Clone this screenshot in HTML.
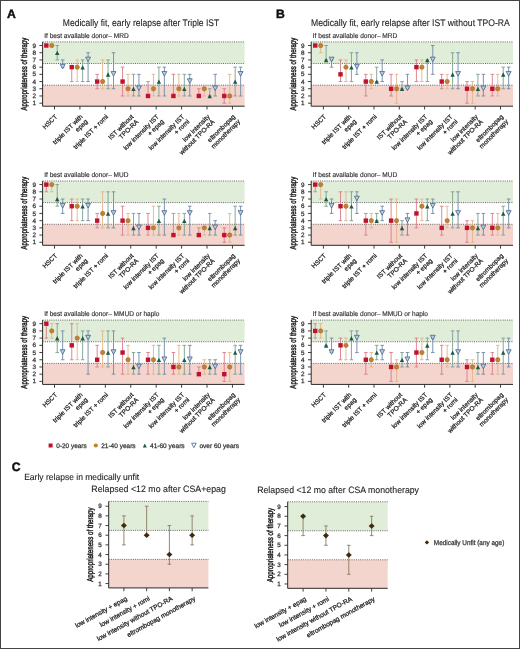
<!DOCTYPE html>
<html><head><meta charset="utf-8"><title>Figure</title><style>html,body{margin:0;padding:0;background:#fff;}svg{display:block;will-change:transform;}text{font-family:"Liberation Sans", sans-serif;text-rendering:geometricPrecision;}</style></head><body><svg width="520" height="649" viewBox="0 0 520 649" font-family='"Liberation Sans", sans-serif'>
<rect x="0" y="0" width="520" height="649" fill="#fff"/>
<text x="7.00" y="17.80" font-size="12.2" text-anchor="start" font-weight="bold" fill="#111" stroke="#111" stroke-width="0.45" >A</text>
<text x="275.90" y="17.80" font-size="12.2" text-anchor="start" font-weight="bold" fill="#111" stroke="#111" stroke-width="0.45" >B</text>
<text x="11.80" y="470.80" font-size="12.2" text-anchor="start" font-weight="bold" fill="#111" stroke="#111" stroke-width="0.45" >C</text>
<text x="62.80" y="25.80" font-size="9.6" text-anchor="start" font-weight="normal" fill="#222" stroke="#222" stroke-width="0.1" textLength="156.4" lengthAdjust="spacingAndGlyphs" >Medically fit, early relapse after Triple IST</text>
<text x="311.00" y="25.80" font-size="9.6" text-anchor="start" font-weight="normal" fill="#222" stroke="#222" stroke-width="0.1" textLength="198.8" lengthAdjust="spacingAndGlyphs" >Medically fit, early relapse after IST without TPO-RA</text>
<rect x="42.60" y="41.90" width="202.00" height="21.63" fill="#e0edd8"/>
<rect x="42.60" y="85.16" width="202.00" height="21.05" fill="#f3d5cd"/>
<line x1="42.60" y1="41.90" x2="244.60" y2="41.90" stroke="#666" stroke-width="1" stroke-dasharray="1 1.2"/>
<line x1="42.60" y1="63.52" x2="244.60" y2="63.52" stroke="#666" stroke-width="1" stroke-dasharray="1 1.2"/>
<line x1="42.60" y1="85.16" x2="244.60" y2="85.16" stroke="#666" stroke-width="1" stroke-dasharray="1 1.2"/>
<path d="M46.33,45.50V45.50M44.53,45.50H48.12M44.53,45.50H48.12" stroke="#db7b89" stroke-width="0.9" fill="none"/>
<path d="M51.77,45.50V45.50M49.98,45.50H53.57M49.98,45.50H53.57" stroke="#e2b48a" stroke-width="0.9" fill="none"/>
<path d="M57.23,45.50V59.92M55.43,45.50H59.02M55.43,59.92H59.02" stroke="#7a9e91" stroke-width="0.9" fill="none"/>
<path d="M62.67,59.92V67.13M60.88,59.92H64.47M60.88,67.13H64.47" stroke="#7189a6" stroke-width="0.9" fill="none"/>
<rect x="44.12" y="43.30" width="4.4" height="4.4" fill="#c0122c"/>
<circle cx="51.77" cy="45.50" r="2.2" fill="#c4802f" stroke="#9a6222" stroke-width="0.5"/>
<path d="M57.23,50.71 L59.43,55.01 L55.02,55.01Z" fill="#1c5a42"/>
<path d="M60.22,64.33 L65.12,64.33 L62.67,68.93Z" fill="#bccde0" stroke="#43658e" stroke-width="0.8" stroke-linejoin="miter"/>
<path d="M71.75,67.13V81.55M69.95,67.13H73.55M69.95,81.55H73.55" stroke="#db7b89" stroke-width="0.9" fill="none"/>
<path d="M77.20,59.92V81.55M75.40,59.92H79.00M75.40,81.55H79.00" stroke="#e2b48a" stroke-width="0.9" fill="none"/>
<path d="M82.64,59.92V81.55M80.84,59.92H84.44M80.84,81.55H84.44" stroke="#7a9e91" stroke-width="0.9" fill="none"/>
<path d="M88.09,52.71V81.55M86.30,52.71H89.89M86.30,81.55H89.89" stroke="#7189a6" stroke-width="0.9" fill="none"/>
<rect x="69.55" y="64.93" width="4.4" height="4.4" fill="#c0122c"/>
<circle cx="77.20" cy="67.13" r="2.2" fill="#c4802f" stroke="#9a6222" stroke-width="0.5"/>
<path d="M82.64,65.13 L84.84,69.43 L80.44,69.43Z" fill="#1c5a42"/>
<path d="M85.64,57.12 L90.55,57.12 L88.09,61.72Z" fill="#bccde0" stroke="#43658e" stroke-width="0.8" stroke-linejoin="miter"/>
<path d="M97.17,74.34V88.76M95.37,74.34H98.97M95.37,88.76H98.97" stroke="#db7b89" stroke-width="0.9" fill="none"/>
<path d="M102.62,59.92V88.76M100.82,59.92H104.42M100.82,88.76H104.42" stroke="#e2b48a" stroke-width="0.9" fill="none"/>
<path d="M108.06,59.92V88.76M106.27,59.92H109.86M106.27,88.76H109.86" stroke="#7a9e91" stroke-width="0.9" fill="none"/>
<path d="M113.52,52.71V88.76M111.72,52.71H115.31M111.72,88.76H115.31" stroke="#7189a6" stroke-width="0.9" fill="none"/>
<rect x="94.97" y="79.35" width="4.4" height="4.4" fill="#c0122c"/>
<circle cx="102.62" cy="81.55" r="2.2" fill="#c4802f" stroke="#9a6222" stroke-width="0.5"/>
<path d="M108.06,72.34 L110.27,76.64 L105.86,76.64Z" fill="#1c5a42"/>
<path d="M111.06,71.54 L115.97,71.54 L113.52,76.14Z" fill="#bccde0" stroke="#43658e" stroke-width="0.8" stroke-linejoin="miter"/>
<path d="M122.58,67.13V95.97M120.78,67.13H124.38M120.78,95.97H124.38" stroke="#db7b89" stroke-width="0.9" fill="none"/>
<path d="M128.03,74.34V95.97M126.23,74.34H129.84M126.23,95.97H129.84" stroke="#e2b48a" stroke-width="0.9" fill="none"/>
<path d="M133.48,74.34V95.97M131.68,74.34H135.28M131.68,95.97H135.28" stroke="#7a9e91" stroke-width="0.9" fill="none"/>
<path d="M138.94,74.34V95.97M137.13,74.34H140.74M137.13,95.97H140.74" stroke="#7189a6" stroke-width="0.9" fill="none"/>
<rect x="120.38" y="79.35" width="4.4" height="4.4" fill="#c0122c"/>
<circle cx="128.03" cy="88.76" r="2.2" fill="#c4802f" stroke="#9a6222" stroke-width="0.5"/>
<path d="M133.48,86.76 L135.68,91.06 L131.28,91.06Z" fill="#1c5a42"/>
<path d="M136.49,85.96 L141.38,85.96 L138.94,90.56Z" fill="#bccde0" stroke="#43658e" stroke-width="0.8" stroke-linejoin="miter"/>
<path d="M148.00,81.55V95.97M146.20,81.55H149.81M146.20,95.97H149.81" stroke="#db7b89" stroke-width="0.9" fill="none"/>
<path d="M153.46,74.34V95.97M151.66,74.34H155.26M151.66,95.97H155.26" stroke="#e2b48a" stroke-width="0.9" fill="none"/>
<path d="M158.91,67.13V95.97M157.10,67.13H160.71M157.10,95.97H160.71" stroke="#7a9e91" stroke-width="0.9" fill="none"/>
<path d="M164.36,67.13V95.97M162.56,67.13H166.16M162.56,95.97H166.16" stroke="#7189a6" stroke-width="0.9" fill="none"/>
<rect x="145.81" y="93.77" width="4.4" height="4.4" fill="#c0122c"/>
<circle cx="153.46" cy="88.76" r="2.2" fill="#c4802f" stroke="#9a6222" stroke-width="0.5"/>
<path d="M158.91,79.55 L161.10,83.85 L156.71,83.85Z" fill="#1c5a42"/>
<path d="M161.91,71.54 L166.81,71.54 L164.36,76.14Z" fill="#bccde0" stroke="#43658e" stroke-width="0.8" stroke-linejoin="miter"/>
<path d="M173.43,74.34V95.97M171.62,74.34H175.23M171.62,95.97H175.23" stroke="#db7b89" stroke-width="0.9" fill="none"/>
<path d="M178.88,74.34V95.97M177.08,74.34H180.68M177.08,95.97H180.68" stroke="#e2b48a" stroke-width="0.9" fill="none"/>
<path d="M184.33,74.34V95.97M182.53,74.34H186.13M182.53,95.97H186.13" stroke="#7a9e91" stroke-width="0.9" fill="none"/>
<path d="M189.78,74.34V95.97M187.98,74.34H191.58M187.98,95.97H191.58" stroke="#7189a6" stroke-width="0.9" fill="none"/>
<rect x="171.23" y="93.77" width="4.4" height="4.4" fill="#c0122c"/>
<circle cx="178.88" cy="88.76" r="2.2" fill="#c4802f" stroke="#9a6222" stroke-width="0.5"/>
<path d="M184.33,86.76 L186.53,91.06 L182.13,91.06Z" fill="#1c5a42"/>
<path d="M187.33,78.75 L192.23,78.75 L189.78,83.35Z" fill="#bccde0" stroke="#43658e" stroke-width="0.8" stroke-linejoin="miter"/>
<path d="M198.84,88.76V95.97M197.04,88.76H200.65M197.04,95.97H200.65" stroke="#db7b89" stroke-width="0.9" fill="none"/>
<path d="M204.30,88.76V95.97M202.50,88.76H206.10M202.50,95.97H206.10" stroke="#e2b48a" stroke-width="0.9" fill="none"/>
<path d="M209.75,88.76V95.97M207.94,88.76H211.55M207.94,95.97H211.55" stroke="#7a9e91" stroke-width="0.9" fill="none"/>
<path d="M215.20,74.34V95.97M213.40,74.34H217.00M213.40,95.97H217.00" stroke="#7189a6" stroke-width="0.9" fill="none"/>
<rect x="196.65" y="93.77" width="4.4" height="4.4" fill="#c0122c"/>
<circle cx="204.30" cy="88.76" r="2.2" fill="#c4802f" stroke="#9a6222" stroke-width="0.5"/>
<path d="M209.75,93.97 L211.94,98.27 L207.55,98.27Z" fill="#1c5a42"/>
<path d="M212.75,85.96 L217.65,85.96 L215.20,90.56Z" fill="#bccde0" stroke="#43658e" stroke-width="0.8" stroke-linejoin="miter"/>
<path d="M224.26,88.76V103.18M222.46,88.76H226.06M222.46,103.18H226.06" stroke="#db7b89" stroke-width="0.9" fill="none"/>
<path d="M229.72,74.34V103.18M227.91,74.34H231.52M227.91,103.18H231.52" stroke="#e2b48a" stroke-width="0.9" fill="none"/>
<path d="M235.16,67.13V95.97M233.36,67.13H236.97M233.36,95.97H236.97" stroke="#7a9e91" stroke-width="0.9" fill="none"/>
<path d="M240.62,67.13V95.97M238.81,67.13H242.42M238.81,95.97H242.42" stroke="#7189a6" stroke-width="0.9" fill="none"/>
<rect x="222.06" y="93.77" width="4.4" height="4.4" fill="#c0122c"/>
<circle cx="229.72" cy="95.97" r="2.2" fill="#c4802f" stroke="#9a6222" stroke-width="0.5"/>
<path d="M235.16,79.55 L237.36,83.85 L232.97,83.85Z" fill="#1c5a42"/>
<path d="M238.17,71.54 L243.06,71.54 L240.62,76.14Z" fill="#bccde0" stroke="#43658e" stroke-width="0.8" stroke-linejoin="miter"/>
<path d="M42.60,41.90V106.21H244.60" stroke="#2a2a2a" stroke-width="1" fill="none"/>
<line x1="39.40" y1="103.18" x2="42.60" y2="103.18" stroke="#2a2a2a" stroke-width="0.9"/>
<text x="35.90" y="105.26" font-size="6.3" text-anchor="end" font-weight="normal" fill="#333" stroke="#333" stroke-width="0.25" >1</text>
<line x1="39.40" y1="95.97" x2="42.60" y2="95.97" stroke="#2a2a2a" stroke-width="0.9"/>
<text x="35.90" y="98.05" font-size="6.3" text-anchor="end" font-weight="normal" fill="#333" stroke="#333" stroke-width="0.25" >2</text>
<line x1="39.40" y1="88.76" x2="42.60" y2="88.76" stroke="#2a2a2a" stroke-width="0.9"/>
<text x="35.90" y="90.84" font-size="6.3" text-anchor="end" font-weight="normal" fill="#333" stroke="#333" stroke-width="0.25" >3</text>
<line x1="39.40" y1="81.55" x2="42.60" y2="81.55" stroke="#2a2a2a" stroke-width="0.9"/>
<text x="35.90" y="83.63" font-size="6.3" text-anchor="end" font-weight="normal" fill="#333" stroke="#333" stroke-width="0.25" >4</text>
<line x1="39.40" y1="74.34" x2="42.60" y2="74.34" stroke="#2a2a2a" stroke-width="0.9"/>
<text x="35.90" y="76.42" font-size="6.3" text-anchor="end" font-weight="normal" fill="#333" stroke="#333" stroke-width="0.25" >5</text>
<line x1="39.40" y1="67.13" x2="42.60" y2="67.13" stroke="#2a2a2a" stroke-width="0.9"/>
<text x="35.90" y="69.21" font-size="6.3" text-anchor="end" font-weight="normal" fill="#333" stroke="#333" stroke-width="0.25" >6</text>
<line x1="39.40" y1="59.92" x2="42.60" y2="59.92" stroke="#2a2a2a" stroke-width="0.9"/>
<text x="35.90" y="62.00" font-size="6.3" text-anchor="end" font-weight="normal" fill="#333" stroke="#333" stroke-width="0.25" >7</text>
<line x1="39.40" y1="52.71" x2="42.60" y2="52.71" stroke="#2a2a2a" stroke-width="0.9"/>
<text x="35.90" y="54.79" font-size="6.3" text-anchor="end" font-weight="normal" fill="#333" stroke="#333" stroke-width="0.25" >8</text>
<line x1="39.40" y1="45.50" x2="42.60" y2="45.50" stroke="#2a2a2a" stroke-width="0.9"/>
<text x="35.90" y="47.58" font-size="6.3" text-anchor="end" font-weight="normal" fill="#333" stroke="#333" stroke-width="0.25" >9</text>
<line x1="54.50" y1="106.21" x2="54.50" y2="109.51" stroke="#2a2a2a" stroke-width="0.9"/>
<text transform="translate(57.70,117.11) rotate(-45)" font-size="6.5" text-anchor="end" fill="#222" stroke="#222" stroke-width="0.25"><tspan x="0" y="0.00">HSCT</tspan></text>
<line x1="79.92" y1="106.21" x2="79.92" y2="109.51" stroke="#2a2a2a" stroke-width="0.9"/>
<text transform="translate(83.12,117.11) rotate(-45)" font-size="6.5" text-anchor="end" fill="#222" stroke="#222" stroke-width="0.25"><tspan x="0" y="0.00">triple IST with</tspan><tspan x="0" y="7.00">epag</tspan></text>
<line x1="105.34" y1="106.21" x2="105.34" y2="109.51" stroke="#2a2a2a" stroke-width="0.9"/>
<text transform="translate(108.54,117.11) rotate(-45)" font-size="6.5" text-anchor="end" fill="#222" stroke="#222" stroke-width="0.25"><tspan x="0" y="0.00">triple IST + romi</tspan></text>
<line x1="130.76" y1="106.21" x2="130.76" y2="109.51" stroke="#2a2a2a" stroke-width="0.9"/>
<text transform="translate(133.96,117.11) rotate(-45)" font-size="6.5" text-anchor="end" fill="#222" stroke="#222" stroke-width="0.25"><tspan x="0" y="0.00">IST without</tspan><tspan x="0" y="7.00">TPO-RA</tspan></text>
<line x1="156.18" y1="106.21" x2="156.18" y2="109.51" stroke="#2a2a2a" stroke-width="0.9"/>
<text transform="translate(159.38,117.11) rotate(-45)" font-size="6.5" text-anchor="end" fill="#222" stroke="#222" stroke-width="0.25"><tspan x="0" y="0.00">low intensity IST</tspan><tspan x="0" y="7.00">+ epag</tspan></text>
<line x1="181.60" y1="106.21" x2="181.60" y2="109.51" stroke="#2a2a2a" stroke-width="0.9"/>
<text transform="translate(184.80,117.11) rotate(-45)" font-size="6.5" text-anchor="end" fill="#222" stroke="#222" stroke-width="0.25"><tspan x="0" y="0.00">low intensity IST</tspan><tspan x="0" y="7.00">+ romi</tspan></text>
<line x1="207.02" y1="106.21" x2="207.02" y2="109.51" stroke="#2a2a2a" stroke-width="0.9"/>
<text transform="translate(210.22,117.11) rotate(-45)" font-size="6.5" text-anchor="end" fill="#222" stroke="#222" stroke-width="0.25"><tspan x="0" y="0.00">low intensity</tspan><tspan x="0" y="7.00">without TPO-RA</tspan></text>
<line x1="232.44" y1="106.21" x2="232.44" y2="109.51" stroke="#2a2a2a" stroke-width="0.9"/>
<text transform="translate(235.64,117.11) rotate(-45)" font-size="6.5" text-anchor="end" fill="#222" stroke="#222" stroke-width="0.25"><tspan x="0" y="0.00">eltrombopag</tspan><tspan x="0" y="7.00">monotherapy</tspan></text>
<text x="44.20" y="37.60" font-size="6.9" text-anchor="start" font-weight="normal" fill="#2e2e2e" stroke="#2e2e2e" stroke-width="0.15" textLength="84.5" lengthAdjust="spacingAndGlyphs" >If best available donor– MRD</text>
<text transform="translate(27.00,74.05) rotate(-90) scale(0.7051,1)" font-size="8.6" text-anchor="middle" fill="#1a1a1a" stroke="#1a1a1a" stroke-width="0.45">Appropriateness of therapy</text>
<rect x="311.20" y="41.90" width="201.80" height="21.63" fill="#e0edd8"/>
<rect x="311.20" y="85.16" width="201.80" height="21.05" fill="#f3d5cd"/>
<line x1="311.20" y1="41.90" x2="513.00" y2="41.90" stroke="#666" stroke-width="1" stroke-dasharray="1 1.2"/>
<line x1="311.20" y1="63.52" x2="513.00" y2="63.52" stroke="#666" stroke-width="1" stroke-dasharray="1 1.2"/>
<line x1="311.20" y1="85.16" x2="513.00" y2="85.16" stroke="#666" stroke-width="1" stroke-dasharray="1 1.2"/>
<path d="M315.22,45.50V45.50M313.42,45.50H317.02M313.42,45.50H317.02" stroke="#db7b89" stroke-width="0.9" fill="none"/>
<path d="M320.67,45.50V52.71M318.87,45.50H322.47M318.87,52.71H322.47" stroke="#e2b48a" stroke-width="0.9" fill="none"/>
<path d="M326.12,45.50V59.92M324.32,45.50H327.93M324.32,59.92H327.93" stroke="#7a9e91" stroke-width="0.9" fill="none"/>
<path d="M331.57,59.92V67.13M329.77,59.92H333.38M329.77,67.13H333.38" stroke="#7189a6" stroke-width="0.9" fill="none"/>
<rect x="313.02" y="43.30" width="4.4" height="4.4" fill="#c0122c"/>
<circle cx="320.67" cy="45.50" r="2.2" fill="#c4802f" stroke="#9a6222" stroke-width="0.5"/>
<path d="M326.12,57.92 L328.32,62.22 L323.93,62.22Z" fill="#1c5a42"/>
<path d="M329.12,57.12 L334.02,57.12 L331.57,61.72Z" fill="#bccde0" stroke="#43658e" stroke-width="0.8" stroke-linejoin="miter"/>
<path d="M340.52,59.92V81.55M338.72,59.92H342.32M338.72,81.55H342.32" stroke="#db7b89" stroke-width="0.9" fill="none"/>
<path d="M345.97,59.92V81.55M344.17,59.92H347.77M344.17,81.55H347.77" stroke="#e2b48a" stroke-width="0.9" fill="none"/>
<path d="M351.43,52.71V81.55M349.62,52.71H353.23M349.62,81.55H353.23" stroke="#7a9e91" stroke-width="0.9" fill="none"/>
<path d="M356.88,52.71V74.34M355.07,52.71H358.68M355.07,74.34H358.68" stroke="#7189a6" stroke-width="0.9" fill="none"/>
<rect x="338.32" y="72.14" width="4.4" height="4.4" fill="#c0122c"/>
<circle cx="345.97" cy="67.13" r="2.2" fill="#c4802f" stroke="#9a6222" stroke-width="0.5"/>
<path d="M351.43,65.13 L353.62,69.43 L349.23,69.43Z" fill="#1c5a42"/>
<path d="M354.43,64.33 L359.32,64.33 L356.88,68.93Z" fill="#bccde0" stroke="#43658e" stroke-width="0.8" stroke-linejoin="miter"/>
<path d="M365.82,74.34V95.97M364.02,74.34H367.62M364.02,95.97H367.62" stroke="#db7b89" stroke-width="0.9" fill="none"/>
<path d="M371.27,74.34V88.76M369.47,74.34H373.07M369.47,88.76H373.07" stroke="#e2b48a" stroke-width="0.9" fill="none"/>
<path d="M376.73,67.13V81.55M374.93,67.13H378.53M374.93,81.55H378.53" stroke="#7a9e91" stroke-width="0.9" fill="none"/>
<path d="M382.18,59.92V81.55M380.38,59.92H383.98M380.38,81.55H383.98" stroke="#7189a6" stroke-width="0.9" fill="none"/>
<rect x="363.62" y="79.35" width="4.4" height="4.4" fill="#c0122c"/>
<circle cx="371.27" cy="81.55" r="2.2" fill="#c4802f" stroke="#9a6222" stroke-width="0.5"/>
<path d="M376.73,79.55 L378.93,83.85 L374.53,83.85Z" fill="#1c5a42"/>
<path d="M379.73,71.54 L384.62,71.54 L382.18,76.14Z" fill="#bccde0" stroke="#43658e" stroke-width="0.8" stroke-linejoin="miter"/>
<path d="M391.12,74.34V95.97M389.32,74.34H392.92M389.32,95.97H392.92" stroke="#db7b89" stroke-width="0.9" fill="none"/>
<path d="M396.57,74.34V103.18M394.77,74.34H398.37M394.77,103.18H398.37" stroke="#e2b48a" stroke-width="0.9" fill="none"/>
<path d="M402.02,81.55V88.76M400.22,81.55H403.82M400.22,88.76H403.82" stroke="#7a9e91" stroke-width="0.9" fill="none"/>
<path d="M407.47,74.34V88.76M405.67,74.34H409.27M405.67,88.76H409.27" stroke="#7189a6" stroke-width="0.9" fill="none"/>
<rect x="388.92" y="86.56" width="4.4" height="4.4" fill="#c0122c"/>
<circle cx="396.57" cy="88.76" r="2.2" fill="#c4802f" stroke="#9a6222" stroke-width="0.5"/>
<path d="M402.02,86.76 L404.22,91.06 L399.82,91.06Z" fill="#1c5a42"/>
<path d="M405.02,85.96 L409.92,85.96 L407.47,90.56Z" fill="#bccde0" stroke="#43658e" stroke-width="0.8" stroke-linejoin="miter"/>
<path d="M416.42,59.92V81.55M414.62,59.92H418.22M414.62,81.55H418.22" stroke="#db7b89" stroke-width="0.9" fill="none"/>
<path d="M421.87,59.92V81.55M420.07,59.92H423.67M420.07,81.55H423.67" stroke="#e2b48a" stroke-width="0.9" fill="none"/>
<path d="M427.32,59.92V81.55M425.52,59.92H429.12M425.52,81.55H429.12" stroke="#7a9e91" stroke-width="0.9" fill="none"/>
<path d="M432.77,45.50V74.34M430.97,45.50H434.57M430.97,74.34H434.57" stroke="#7189a6" stroke-width="0.9" fill="none"/>
<rect x="414.22" y="64.93" width="4.4" height="4.4" fill="#c0122c"/>
<circle cx="421.87" cy="67.13" r="2.2" fill="#c4802f" stroke="#9a6222" stroke-width="0.5"/>
<path d="M427.32,57.92 L429.52,62.22 L425.12,62.22Z" fill="#1c5a42"/>
<path d="M430.32,57.12 L435.22,57.12 L432.77,61.72Z" fill="#bccde0" stroke="#43658e" stroke-width="0.8" stroke-linejoin="miter"/>
<path d="M441.72,74.34V88.76M439.92,74.34H443.52M439.92,88.76H443.52" stroke="#db7b89" stroke-width="0.9" fill="none"/>
<path d="M447.17,74.34V88.76M445.37,74.34H448.97M445.37,88.76H448.97" stroke="#e2b48a" stroke-width="0.9" fill="none"/>
<path d="M452.62,52.71V88.76M450.82,52.71H454.43M450.82,88.76H454.43" stroke="#7a9e91" stroke-width="0.9" fill="none"/>
<path d="M458.07,52.71V88.76M456.27,52.71H459.88M456.27,88.76H459.88" stroke="#7189a6" stroke-width="0.9" fill="none"/>
<rect x="439.52" y="79.35" width="4.4" height="4.4" fill="#c0122c"/>
<circle cx="447.17" cy="81.55" r="2.2" fill="#c4802f" stroke="#9a6222" stroke-width="0.5"/>
<path d="M452.62,72.34 L454.82,76.64 L450.43,76.64Z" fill="#1c5a42"/>
<path d="M455.62,71.54 L460.52,71.54 L458.07,76.14Z" fill="#bccde0" stroke="#43658e" stroke-width="0.8" stroke-linejoin="miter"/>
<path d="M467.02,81.55V103.18M465.22,81.55H468.82M465.22,103.18H468.82" stroke="#db7b89" stroke-width="0.9" fill="none"/>
<path d="M472.47,81.55V103.18M470.67,81.55H474.27M470.67,103.18H474.27" stroke="#e2b48a" stroke-width="0.9" fill="none"/>
<path d="M477.93,74.34V95.97M476.12,74.34H479.73M476.12,95.97H479.73" stroke="#7a9e91" stroke-width="0.9" fill="none"/>
<path d="M483.38,74.34V95.97M481.57,74.34H485.18M481.57,95.97H485.18" stroke="#7189a6" stroke-width="0.9" fill="none"/>
<rect x="464.82" y="86.56" width="4.4" height="4.4" fill="#c0122c"/>
<circle cx="472.47" cy="88.76" r="2.2" fill="#c4802f" stroke="#9a6222" stroke-width="0.5"/>
<path d="M477.93,86.76 L480.12,91.06 L475.73,91.06Z" fill="#1c5a42"/>
<path d="M480.93,85.96 L485.82,85.96 L483.38,90.56Z" fill="#bccde0" stroke="#43658e" stroke-width="0.8" stroke-linejoin="miter"/>
<path d="M492.32,74.34V95.97M490.52,74.34H494.12M490.52,95.97H494.12" stroke="#db7b89" stroke-width="0.9" fill="none"/>
<path d="M497.77,74.34V95.97M495.97,74.34H499.57M495.97,95.97H499.57" stroke="#e2b48a" stroke-width="0.9" fill="none"/>
<path d="M503.23,67.13V88.76M501.43,67.13H505.03M501.43,88.76H505.03" stroke="#7a9e91" stroke-width="0.9" fill="none"/>
<path d="M508.68,67.13V88.76M506.88,67.13H510.48M506.88,88.76H510.48" stroke="#7189a6" stroke-width="0.9" fill="none"/>
<rect x="490.12" y="86.56" width="4.4" height="4.4" fill="#c0122c"/>
<circle cx="497.77" cy="88.76" r="2.2" fill="#c4802f" stroke="#9a6222" stroke-width="0.5"/>
<path d="M503.23,72.34 L505.43,76.64 L501.03,76.64Z" fill="#1c5a42"/>
<path d="M506.23,71.54 L511.12,71.54 L508.68,76.14Z" fill="#bccde0" stroke="#43658e" stroke-width="0.8" stroke-linejoin="miter"/>
<path d="M311.20,41.90V106.21H513.00" stroke="#2a2a2a" stroke-width="1" fill="none"/>
<line x1="308.00" y1="103.18" x2="311.20" y2="103.18" stroke="#2a2a2a" stroke-width="0.9"/>
<text x="304.50" y="105.26" font-size="6.3" text-anchor="end" font-weight="normal" fill="#333" stroke="#333" stroke-width="0.25" >1</text>
<line x1="308.00" y1="95.97" x2="311.20" y2="95.97" stroke="#2a2a2a" stroke-width="0.9"/>
<text x="304.50" y="98.05" font-size="6.3" text-anchor="end" font-weight="normal" fill="#333" stroke="#333" stroke-width="0.25" >2</text>
<line x1="308.00" y1="88.76" x2="311.20" y2="88.76" stroke="#2a2a2a" stroke-width="0.9"/>
<text x="304.50" y="90.84" font-size="6.3" text-anchor="end" font-weight="normal" fill="#333" stroke="#333" stroke-width="0.25" >3</text>
<line x1="308.00" y1="81.55" x2="311.20" y2="81.55" stroke="#2a2a2a" stroke-width="0.9"/>
<text x="304.50" y="83.63" font-size="6.3" text-anchor="end" font-weight="normal" fill="#333" stroke="#333" stroke-width="0.25" >4</text>
<line x1="308.00" y1="74.34" x2="311.20" y2="74.34" stroke="#2a2a2a" stroke-width="0.9"/>
<text x="304.50" y="76.42" font-size="6.3" text-anchor="end" font-weight="normal" fill="#333" stroke="#333" stroke-width="0.25" >5</text>
<line x1="308.00" y1="67.13" x2="311.20" y2="67.13" stroke="#2a2a2a" stroke-width="0.9"/>
<text x="304.50" y="69.21" font-size="6.3" text-anchor="end" font-weight="normal" fill="#333" stroke="#333" stroke-width="0.25" >6</text>
<line x1="308.00" y1="59.92" x2="311.20" y2="59.92" stroke="#2a2a2a" stroke-width="0.9"/>
<text x="304.50" y="62.00" font-size="6.3" text-anchor="end" font-weight="normal" fill="#333" stroke="#333" stroke-width="0.25" >7</text>
<line x1="308.00" y1="52.71" x2="311.20" y2="52.71" stroke="#2a2a2a" stroke-width="0.9"/>
<text x="304.50" y="54.79" font-size="6.3" text-anchor="end" font-weight="normal" fill="#333" stroke="#333" stroke-width="0.25" >8</text>
<line x1="308.00" y1="45.50" x2="311.20" y2="45.50" stroke="#2a2a2a" stroke-width="0.9"/>
<text x="304.50" y="47.58" font-size="6.3" text-anchor="end" font-weight="normal" fill="#333" stroke="#333" stroke-width="0.25" >9</text>
<line x1="323.40" y1="106.21" x2="323.40" y2="109.51" stroke="#2a2a2a" stroke-width="0.9"/>
<text transform="translate(326.60,117.11) rotate(-45)" font-size="6.5" text-anchor="end" fill="#222" stroke="#222" stroke-width="0.25"><tspan x="0" y="0.00">HSCT</tspan></text>
<line x1="348.70" y1="106.21" x2="348.70" y2="109.51" stroke="#2a2a2a" stroke-width="0.9"/>
<text transform="translate(351.90,117.11) rotate(-45)" font-size="6.5" text-anchor="end" fill="#222" stroke="#222" stroke-width="0.25"><tspan x="0" y="0.00">triple IST with</tspan><tspan x="0" y="7.00">epag</tspan></text>
<line x1="374.00" y1="106.21" x2="374.00" y2="109.51" stroke="#2a2a2a" stroke-width="0.9"/>
<text transform="translate(377.20,117.11) rotate(-45)" font-size="6.5" text-anchor="end" fill="#222" stroke="#222" stroke-width="0.25"><tspan x="0" y="0.00">triple IST + romi</tspan></text>
<line x1="399.30" y1="106.21" x2="399.30" y2="109.51" stroke="#2a2a2a" stroke-width="0.9"/>
<text transform="translate(402.50,117.11) rotate(-45)" font-size="6.5" text-anchor="end" fill="#222" stroke="#222" stroke-width="0.25"><tspan x="0" y="0.00">IST without</tspan><tspan x="0" y="7.00">TPO-RA</tspan></text>
<line x1="424.60" y1="106.21" x2="424.60" y2="109.51" stroke="#2a2a2a" stroke-width="0.9"/>
<text transform="translate(427.80,117.11) rotate(-45)" font-size="6.5" text-anchor="end" fill="#222" stroke="#222" stroke-width="0.25"><tspan x="0" y="0.00">low intensity IST</tspan><tspan x="0" y="7.00">+ epag</tspan></text>
<line x1="449.90" y1="106.21" x2="449.90" y2="109.51" stroke="#2a2a2a" stroke-width="0.9"/>
<text transform="translate(453.10,117.11) rotate(-45)" font-size="6.5" text-anchor="end" fill="#222" stroke="#222" stroke-width="0.25"><tspan x="0" y="0.00">low intensity IST</tspan><tspan x="0" y="7.00">+ romi</tspan></text>
<line x1="475.20" y1="106.21" x2="475.20" y2="109.51" stroke="#2a2a2a" stroke-width="0.9"/>
<text transform="translate(478.40,117.11) rotate(-45)" font-size="6.5" text-anchor="end" fill="#222" stroke="#222" stroke-width="0.25"><tspan x="0" y="0.00">low intensity</tspan><tspan x="0" y="7.00">without TPO-RA</tspan></text>
<line x1="500.50" y1="106.21" x2="500.50" y2="109.51" stroke="#2a2a2a" stroke-width="0.9"/>
<text transform="translate(503.70,117.11) rotate(-45)" font-size="6.5" text-anchor="end" fill="#222" stroke="#222" stroke-width="0.25"><tspan x="0" y="0.00">eltrombopag</tspan><tspan x="0" y="7.00">monotherapy</tspan></text>
<text x="312.80" y="37.60" font-size="6.9" text-anchor="start" font-weight="normal" fill="#2e2e2e" stroke="#2e2e2e" stroke-width="0.15" textLength="84.5" lengthAdjust="spacingAndGlyphs" >If best available donor– MRD</text>
<text transform="translate(295.60,74.05) rotate(-90) scale(0.7051,1)" font-size="8.6" text-anchor="middle" fill="#1a1a1a" stroke="#1a1a1a" stroke-width="0.45">Appropriateness of therapy</text>
<rect x="42.60" y="181.00" width="202.00" height="21.63" fill="#e0edd8"/>
<rect x="42.60" y="224.25" width="202.00" height="21.05" fill="#f3d5cd"/>
<line x1="42.60" y1="181.00" x2="244.60" y2="181.00" stroke="#666" stroke-width="1" stroke-dasharray="1 1.2"/>
<line x1="42.60" y1="202.62" x2="244.60" y2="202.62" stroke="#666" stroke-width="1" stroke-dasharray="1 1.2"/>
<line x1="42.60" y1="224.25" x2="244.60" y2="224.25" stroke="#666" stroke-width="1" stroke-dasharray="1 1.2"/>
<path d="M46.33,184.60V191.81M44.53,184.60H48.12M44.53,191.81H48.12" stroke="#db7b89" stroke-width="0.9" fill="none"/>
<path d="M51.77,184.60V191.81M49.98,184.60H53.57M49.98,191.81H53.57" stroke="#e2b48a" stroke-width="0.9" fill="none"/>
<path d="M57.23,184.60V206.23M55.43,184.60H59.02M55.43,206.23H59.02" stroke="#7a9e91" stroke-width="0.9" fill="none"/>
<path d="M62.67,199.02V213.44M60.88,199.02H64.47M60.88,213.44H64.47" stroke="#7189a6" stroke-width="0.9" fill="none"/>
<rect x="44.12" y="182.40" width="4.4" height="4.4" fill="#c0122c"/>
<circle cx="51.77" cy="184.60" r="2.2" fill="#c4802f" stroke="#9a6222" stroke-width="0.5"/>
<path d="M57.23,197.02 L59.43,201.32 L55.02,201.32Z" fill="#1c5a42"/>
<path d="M60.22,203.43 L65.12,203.43 L62.67,208.03Z" fill="#bccde0" stroke="#43658e" stroke-width="0.8" stroke-linejoin="miter"/>
<path d="M71.75,199.02V220.65M69.95,199.02H73.55M69.95,220.65H73.55" stroke="#db7b89" stroke-width="0.9" fill="none"/>
<path d="M77.20,199.02V220.65M75.40,199.02H79.00M75.40,220.65H79.00" stroke="#e2b48a" stroke-width="0.9" fill="none"/>
<path d="M82.64,199.02V220.65M80.84,199.02H84.44M80.84,220.65H84.44" stroke="#7a9e91" stroke-width="0.9" fill="none"/>
<path d="M88.09,199.02V220.65M86.30,199.02H89.89M86.30,220.65H89.89" stroke="#7189a6" stroke-width="0.9" fill="none"/>
<rect x="69.55" y="204.03" width="4.4" height="4.4" fill="#c0122c"/>
<circle cx="77.20" cy="206.23" r="2.2" fill="#c4802f" stroke="#9a6222" stroke-width="0.5"/>
<path d="M82.64,204.23 L84.84,208.53 L80.44,208.53Z" fill="#1c5a42"/>
<path d="M85.64,203.43 L90.55,203.43 L88.09,208.03Z" fill="#bccde0" stroke="#43658e" stroke-width="0.8" stroke-linejoin="miter"/>
<path d="M97.17,213.44V227.86M95.37,213.44H98.97M95.37,227.86H98.97" stroke="#db7b89" stroke-width="0.9" fill="none"/>
<path d="M102.62,191.81V227.86M100.82,191.81H104.42M100.82,227.86H104.42" stroke="#e2b48a" stroke-width="0.9" fill="none"/>
<path d="M108.06,191.81V227.86M106.27,191.81H109.86M106.27,227.86H109.86" stroke="#7a9e91" stroke-width="0.9" fill="none"/>
<path d="M113.52,191.81V227.86M111.72,191.81H115.31M111.72,227.86H115.31" stroke="#7189a6" stroke-width="0.9" fill="none"/>
<rect x="94.97" y="218.45" width="4.4" height="4.4" fill="#c0122c"/>
<circle cx="102.62" cy="213.44" r="2.2" fill="#c4802f" stroke="#9a6222" stroke-width="0.5"/>
<path d="M108.06,211.44 L110.27,215.74 L105.86,215.74Z" fill="#1c5a42"/>
<path d="M111.06,210.64 L115.97,210.64 L113.52,215.24Z" fill="#bccde0" stroke="#43658e" stroke-width="0.8" stroke-linejoin="miter"/>
<path d="M122.58,206.23V235.07M120.78,206.23H124.38M120.78,235.07H124.38" stroke="#db7b89" stroke-width="0.9" fill="none"/>
<path d="M128.03,213.44V235.07M126.23,213.44H129.84M126.23,235.07H129.84" stroke="#e2b48a" stroke-width="0.9" fill="none"/>
<path d="M133.48,213.44V235.07M131.68,213.44H135.28M131.68,235.07H135.28" stroke="#7a9e91" stroke-width="0.9" fill="none"/>
<path d="M138.94,213.44V235.07M137.13,213.44H140.74M137.13,235.07H140.74" stroke="#7189a6" stroke-width="0.9" fill="none"/>
<rect x="120.38" y="218.45" width="4.4" height="4.4" fill="#c0122c"/>
<circle cx="128.03" cy="220.65" r="2.2" fill="#c4802f" stroke="#9a6222" stroke-width="0.5"/>
<path d="M133.48,225.86 L135.68,230.16 L131.28,230.16Z" fill="#1c5a42"/>
<path d="M136.49,225.06 L141.38,225.06 L138.94,229.66Z" fill="#bccde0" stroke="#43658e" stroke-width="0.8" stroke-linejoin="miter"/>
<path d="M148.00,213.44V235.07M146.20,213.44H149.81M146.20,235.07H149.81" stroke="#db7b89" stroke-width="0.9" fill="none"/>
<path d="M153.46,206.23V235.07M151.66,206.23H155.26M151.66,235.07H155.26" stroke="#e2b48a" stroke-width="0.9" fill="none"/>
<path d="M158.91,206.23V235.07M157.10,206.23H160.71M157.10,235.07H160.71" stroke="#7a9e91" stroke-width="0.9" fill="none"/>
<path d="M164.36,199.02V235.07M162.56,199.02H166.16M162.56,235.07H166.16" stroke="#7189a6" stroke-width="0.9" fill="none"/>
<rect x="145.81" y="225.66" width="4.4" height="4.4" fill="#c0122c"/>
<circle cx="153.46" cy="227.86" r="2.2" fill="#c4802f" stroke="#9a6222" stroke-width="0.5"/>
<path d="M158.91,218.65 L161.10,222.95 L156.71,222.95Z" fill="#1c5a42"/>
<path d="M161.91,210.64 L166.81,210.64 L164.36,215.24Z" fill="#bccde0" stroke="#43658e" stroke-width="0.8" stroke-linejoin="miter"/>
<path d="M173.43,213.44V235.07M171.62,213.44H175.23M171.62,235.07H175.23" stroke="#db7b89" stroke-width="0.9" fill="none"/>
<path d="M178.88,213.44V235.07M177.08,213.44H180.68M177.08,235.07H180.68" stroke="#e2b48a" stroke-width="0.9" fill="none"/>
<path d="M184.33,213.44V235.07M182.53,213.44H186.13M182.53,235.07H186.13" stroke="#7a9e91" stroke-width="0.9" fill="none"/>
<path d="M189.78,206.23V235.07M187.98,206.23H191.58M187.98,235.07H191.58" stroke="#7189a6" stroke-width="0.9" fill="none"/>
<rect x="171.23" y="232.87" width="4.4" height="4.4" fill="#c0122c"/>
<circle cx="178.88" cy="227.86" r="2.2" fill="#c4802f" stroke="#9a6222" stroke-width="0.5"/>
<path d="M184.33,218.65 L186.53,222.95 L182.13,222.95Z" fill="#1c5a42"/>
<path d="M187.33,210.64 L192.23,210.64 L189.78,215.24Z" fill="#bccde0" stroke="#43658e" stroke-width="0.8" stroke-linejoin="miter"/>
<path d="M198.84,227.86V235.07M197.04,227.86H200.65M197.04,235.07H200.65" stroke="#db7b89" stroke-width="0.9" fill="none"/>
<path d="M204.30,227.86V235.07M202.50,227.86H206.10M202.50,235.07H206.10" stroke="#e2b48a" stroke-width="0.9" fill="none"/>
<path d="M209.75,213.44V235.07M207.94,213.44H211.55M207.94,235.07H211.55" stroke="#7a9e91" stroke-width="0.9" fill="none"/>
<path d="M215.20,220.65V235.07M213.40,220.65H217.00M213.40,235.07H217.00" stroke="#7189a6" stroke-width="0.9" fill="none"/>
<rect x="196.65" y="232.87" width="4.4" height="4.4" fill="#c0122c"/>
<circle cx="204.30" cy="227.86" r="2.2" fill="#c4802f" stroke="#9a6222" stroke-width="0.5"/>
<path d="M209.75,225.86 L211.94,230.16 L207.55,230.16Z" fill="#1c5a42"/>
<path d="M212.75,225.06 L217.65,225.06 L215.20,229.66Z" fill="#bccde0" stroke="#43658e" stroke-width="0.8" stroke-linejoin="miter"/>
<path d="M224.26,227.86V242.28M222.46,227.86H226.06M222.46,242.28H226.06" stroke="#db7b89" stroke-width="0.9" fill="none"/>
<path d="M229.72,213.44V242.28M227.91,213.44H231.52M227.91,242.28H231.52" stroke="#e2b48a" stroke-width="0.9" fill="none"/>
<path d="M235.16,206.23V235.07M233.36,206.23H236.97M233.36,235.07H236.97" stroke="#7a9e91" stroke-width="0.9" fill="none"/>
<path d="M240.62,206.23V235.07M238.81,206.23H242.42M238.81,235.07H242.42" stroke="#7189a6" stroke-width="0.9" fill="none"/>
<rect x="222.06" y="232.87" width="4.4" height="4.4" fill="#c0122c"/>
<circle cx="229.72" cy="235.07" r="2.2" fill="#c4802f" stroke="#9a6222" stroke-width="0.5"/>
<path d="M235.16,225.86 L237.36,230.16 L232.97,230.16Z" fill="#1c5a42"/>
<path d="M238.17,210.64 L243.06,210.64 L240.62,215.24Z" fill="#bccde0" stroke="#43658e" stroke-width="0.8" stroke-linejoin="miter"/>
<path d="M42.60,181.00V245.31H244.60" stroke="#2a2a2a" stroke-width="1" fill="none"/>
<line x1="39.40" y1="242.28" x2="42.60" y2="242.28" stroke="#2a2a2a" stroke-width="0.9"/>
<text x="35.90" y="244.36" font-size="6.3" text-anchor="end" font-weight="normal" fill="#333" stroke="#333" stroke-width="0.25" >1</text>
<line x1="39.40" y1="235.07" x2="42.60" y2="235.07" stroke="#2a2a2a" stroke-width="0.9"/>
<text x="35.90" y="237.15" font-size="6.3" text-anchor="end" font-weight="normal" fill="#333" stroke="#333" stroke-width="0.25" >2</text>
<line x1="39.40" y1="227.86" x2="42.60" y2="227.86" stroke="#2a2a2a" stroke-width="0.9"/>
<text x="35.90" y="229.94" font-size="6.3" text-anchor="end" font-weight="normal" fill="#333" stroke="#333" stroke-width="0.25" >3</text>
<line x1="39.40" y1="220.65" x2="42.60" y2="220.65" stroke="#2a2a2a" stroke-width="0.9"/>
<text x="35.90" y="222.73" font-size="6.3" text-anchor="end" font-weight="normal" fill="#333" stroke="#333" stroke-width="0.25" >4</text>
<line x1="39.40" y1="213.44" x2="42.60" y2="213.44" stroke="#2a2a2a" stroke-width="0.9"/>
<text x="35.90" y="215.52" font-size="6.3" text-anchor="end" font-weight="normal" fill="#333" stroke="#333" stroke-width="0.25" >5</text>
<line x1="39.40" y1="206.23" x2="42.60" y2="206.23" stroke="#2a2a2a" stroke-width="0.9"/>
<text x="35.90" y="208.31" font-size="6.3" text-anchor="end" font-weight="normal" fill="#333" stroke="#333" stroke-width="0.25" >6</text>
<line x1="39.40" y1="199.02" x2="42.60" y2="199.02" stroke="#2a2a2a" stroke-width="0.9"/>
<text x="35.90" y="201.10" font-size="6.3" text-anchor="end" font-weight="normal" fill="#333" stroke="#333" stroke-width="0.25" >7</text>
<line x1="39.40" y1="191.81" x2="42.60" y2="191.81" stroke="#2a2a2a" stroke-width="0.9"/>
<text x="35.90" y="193.89" font-size="6.3" text-anchor="end" font-weight="normal" fill="#333" stroke="#333" stroke-width="0.25" >8</text>
<line x1="39.40" y1="184.60" x2="42.60" y2="184.60" stroke="#2a2a2a" stroke-width="0.9"/>
<text x="35.90" y="186.68" font-size="6.3" text-anchor="end" font-weight="normal" fill="#333" stroke="#333" stroke-width="0.25" >9</text>
<line x1="54.50" y1="245.31" x2="54.50" y2="248.61" stroke="#2a2a2a" stroke-width="0.9"/>
<text transform="translate(57.70,256.21) rotate(-45)" font-size="6.5" text-anchor="end" fill="#222" stroke="#222" stroke-width="0.25"><tspan x="0" y="0.00">HSCT</tspan></text>
<line x1="79.92" y1="245.31" x2="79.92" y2="248.61" stroke="#2a2a2a" stroke-width="0.9"/>
<text transform="translate(83.12,256.21) rotate(-45)" font-size="6.5" text-anchor="end" fill="#222" stroke="#222" stroke-width="0.25"><tspan x="0" y="0.00">triple IST with</tspan><tspan x="0" y="7.00">epag</tspan></text>
<line x1="105.34" y1="245.31" x2="105.34" y2="248.61" stroke="#2a2a2a" stroke-width="0.9"/>
<text transform="translate(108.54,256.21) rotate(-45)" font-size="6.5" text-anchor="end" fill="#222" stroke="#222" stroke-width="0.25"><tspan x="0" y="0.00">triple IST + romi</tspan></text>
<line x1="130.76" y1="245.31" x2="130.76" y2="248.61" stroke="#2a2a2a" stroke-width="0.9"/>
<text transform="translate(133.96,256.21) rotate(-45)" font-size="6.5" text-anchor="end" fill="#222" stroke="#222" stroke-width="0.25"><tspan x="0" y="0.00">IST without</tspan><tspan x="0" y="7.00">TPO-RA</tspan></text>
<line x1="156.18" y1="245.31" x2="156.18" y2="248.61" stroke="#2a2a2a" stroke-width="0.9"/>
<text transform="translate(159.38,256.21) rotate(-45)" font-size="6.5" text-anchor="end" fill="#222" stroke="#222" stroke-width="0.25"><tspan x="0" y="0.00">low intensity IST</tspan><tspan x="0" y="7.00">+ epag</tspan></text>
<line x1="181.60" y1="245.31" x2="181.60" y2="248.61" stroke="#2a2a2a" stroke-width="0.9"/>
<text transform="translate(184.80,256.21) rotate(-45)" font-size="6.5" text-anchor="end" fill="#222" stroke="#222" stroke-width="0.25"><tspan x="0" y="0.00">low intensity IST</tspan><tspan x="0" y="7.00">+ romi</tspan></text>
<line x1="207.02" y1="245.31" x2="207.02" y2="248.61" stroke="#2a2a2a" stroke-width="0.9"/>
<text transform="translate(210.22,256.21) rotate(-45)" font-size="6.5" text-anchor="end" fill="#222" stroke="#222" stroke-width="0.25"><tspan x="0" y="0.00">low intensity</tspan><tspan x="0" y="7.00">without TPO-RA</tspan></text>
<line x1="232.44" y1="245.31" x2="232.44" y2="248.61" stroke="#2a2a2a" stroke-width="0.9"/>
<text transform="translate(235.64,256.21) rotate(-45)" font-size="6.5" text-anchor="end" fill="#222" stroke="#222" stroke-width="0.25"><tspan x="0" y="0.00">eltrombopag</tspan><tspan x="0" y="7.00">monotherapy</tspan></text>
<text x="44.20" y="176.69" font-size="6.9" text-anchor="start" font-weight="normal" fill="#2e2e2e" stroke="#2e2e2e" stroke-width="0.15" textLength="84.3" lengthAdjust="spacingAndGlyphs" >If best available donor– MUD</text>
<text transform="translate(27.00,213.15) rotate(-90) scale(0.7051,1)" font-size="8.6" text-anchor="middle" fill="#1a1a1a" stroke="#1a1a1a" stroke-width="0.45">Appropriateness of therapy</text>
<rect x="311.20" y="181.00" width="201.80" height="21.63" fill="#e0edd8"/>
<rect x="311.20" y="224.25" width="201.80" height="21.05" fill="#f3d5cd"/>
<line x1="311.20" y1="181.00" x2="513.00" y2="181.00" stroke="#666" stroke-width="1" stroke-dasharray="1 1.2"/>
<line x1="311.20" y1="202.62" x2="513.00" y2="202.62" stroke="#666" stroke-width="1" stroke-dasharray="1 1.2"/>
<line x1="311.20" y1="224.25" x2="513.00" y2="224.25" stroke="#666" stroke-width="1" stroke-dasharray="1 1.2"/>
<path d="M315.22,184.60V191.81M313.42,184.60H317.02M313.42,191.81H317.02" stroke="#db7b89" stroke-width="0.9" fill="none"/>
<path d="M320.67,184.60V199.02M318.87,184.60H322.47M318.87,199.02H322.47" stroke="#e2b48a" stroke-width="0.9" fill="none"/>
<path d="M326.12,191.81V206.23M324.32,191.81H327.93M324.32,206.23H327.93" stroke="#7a9e91" stroke-width="0.9" fill="none"/>
<path d="M331.57,199.02V213.44M329.77,199.02H333.38M329.77,213.44H333.38" stroke="#7189a6" stroke-width="0.9" fill="none"/>
<rect x="313.02" y="182.40" width="4.4" height="4.4" fill="#c0122c"/>
<circle cx="320.67" cy="184.60" r="2.2" fill="#c4802f" stroke="#9a6222" stroke-width="0.5"/>
<path d="M326.12,197.02 L328.32,201.32 L323.93,201.32Z" fill="#1c5a42"/>
<path d="M329.12,203.43 L334.02,203.43 L331.57,208.03Z" fill="#bccde0" stroke="#43658e" stroke-width="0.8" stroke-linejoin="miter"/>
<path d="M340.52,191.81V220.65M338.72,191.81H342.32M338.72,220.65H342.32" stroke="#db7b89" stroke-width="0.9" fill="none"/>
<path d="M345.97,191.81V220.65M344.17,191.81H347.77M344.17,220.65H347.77" stroke="#e2b48a" stroke-width="0.9" fill="none"/>
<path d="M351.43,191.81V220.65M349.62,191.81H353.23M349.62,220.65H353.23" stroke="#7a9e91" stroke-width="0.9" fill="none"/>
<path d="M356.88,191.81V213.44M355.07,191.81H358.68M355.07,213.44H358.68" stroke="#7189a6" stroke-width="0.9" fill="none"/>
<rect x="338.32" y="204.03" width="4.4" height="4.4" fill="#c0122c"/>
<circle cx="345.97" cy="206.23" r="2.2" fill="#c4802f" stroke="#9a6222" stroke-width="0.5"/>
<path d="M351.43,204.23 L353.62,208.53 L349.23,208.53Z" fill="#1c5a42"/>
<path d="M354.43,196.22 L359.32,196.22 L356.88,200.82Z" fill="#bccde0" stroke="#43658e" stroke-width="0.8" stroke-linejoin="miter"/>
<path d="M365.82,213.44V235.07M364.02,213.44H367.62M364.02,235.07H367.62" stroke="#db7b89" stroke-width="0.9" fill="none"/>
<path d="M371.27,213.44V227.86M369.47,213.44H373.07M369.47,227.86H373.07" stroke="#e2b48a" stroke-width="0.9" fill="none"/>
<path d="M376.73,213.44V220.65M374.93,213.44H378.53M374.93,220.65H378.53" stroke="#7a9e91" stroke-width="0.9" fill="none"/>
<path d="M382.18,206.23V220.65M380.38,206.23H383.98M380.38,220.65H383.98" stroke="#7189a6" stroke-width="0.9" fill="none"/>
<rect x="363.62" y="218.45" width="4.4" height="4.4" fill="#c0122c"/>
<circle cx="371.27" cy="220.65" r="2.2" fill="#c4802f" stroke="#9a6222" stroke-width="0.5"/>
<path d="M376.73,218.65 L378.93,222.95 L374.53,222.95Z" fill="#1c5a42"/>
<path d="M379.73,210.64 L384.62,210.64 L382.18,215.24Z" fill="#bccde0" stroke="#43658e" stroke-width="0.8" stroke-linejoin="miter"/>
<path d="M391.12,199.02V242.28M389.32,199.02H392.92M389.32,242.28H392.92" stroke="#db7b89" stroke-width="0.9" fill="none"/>
<path d="M396.57,199.02V242.28M394.77,199.02H398.37M394.77,242.28H398.37" stroke="#e2b48a" stroke-width="0.9" fill="none"/>
<path d="M402.02,220.65V235.07M400.22,220.65H403.82M400.22,235.07H403.82" stroke="#7a9e91" stroke-width="0.9" fill="none"/>
<path d="M407.47,213.44V235.07M405.67,213.44H409.27M405.67,235.07H409.27" stroke="#7189a6" stroke-width="0.9" fill="none"/>
<rect x="388.92" y="218.45" width="4.4" height="4.4" fill="#c0122c"/>
<circle cx="396.57" cy="220.65" r="2.2" fill="#c4802f" stroke="#9a6222" stroke-width="0.5"/>
<path d="M402.02,225.86 L404.22,230.16 L399.82,230.16Z" fill="#1c5a42"/>
<path d="M405.02,217.85 L409.92,217.85 L407.47,222.45Z" fill="#bccde0" stroke="#43658e" stroke-width="0.8" stroke-linejoin="miter"/>
<path d="M416.42,199.02V227.86M414.62,199.02H418.22M414.62,227.86H418.22" stroke="#db7b89" stroke-width="0.9" fill="none"/>
<path d="M421.87,199.02V220.65M420.07,199.02H423.67M420.07,220.65H423.67" stroke="#e2b48a" stroke-width="0.9" fill="none"/>
<path d="M427.32,199.02V220.65M425.52,199.02H429.12M425.52,220.65H429.12" stroke="#7a9e91" stroke-width="0.9" fill="none"/>
<path d="M432.77,199.02V213.44M430.97,199.02H434.57M430.97,213.44H434.57" stroke="#7189a6" stroke-width="0.9" fill="none"/>
<rect x="414.22" y="211.24" width="4.4" height="4.4" fill="#c0122c"/>
<circle cx="421.87" cy="206.23" r="2.2" fill="#c4802f" stroke="#9a6222" stroke-width="0.5"/>
<path d="M427.32,204.23 L429.52,208.53 L425.12,208.53Z" fill="#1c5a42"/>
<path d="M430.32,203.43 L435.22,203.43 L432.77,208.03Z" fill="#bccde0" stroke="#43658e" stroke-width="0.8" stroke-linejoin="miter"/>
<path d="M441.72,206.23V235.07M439.92,206.23H443.52M439.92,235.07H443.52" stroke="#db7b89" stroke-width="0.9" fill="none"/>
<path d="M447.17,206.23V227.86M445.37,206.23H448.97M445.37,227.86H448.97" stroke="#e2b48a" stroke-width="0.9" fill="none"/>
<path d="M452.62,191.81V227.86M450.82,191.81H454.43M450.82,227.86H454.43" stroke="#7a9e91" stroke-width="0.9" fill="none"/>
<path d="M458.07,191.81V227.86M456.27,191.81H459.88M456.27,227.86H459.88" stroke="#7189a6" stroke-width="0.9" fill="none"/>
<rect x="439.52" y="225.66" width="4.4" height="4.4" fill="#c0122c"/>
<circle cx="447.17" cy="220.65" r="2.2" fill="#c4802f" stroke="#9a6222" stroke-width="0.5"/>
<path d="M452.62,211.44 L454.82,215.74 L450.43,215.74Z" fill="#1c5a42"/>
<path d="M455.62,210.64 L460.52,210.64 L458.07,215.24Z" fill="#bccde0" stroke="#43658e" stroke-width="0.8" stroke-linejoin="miter"/>
<path d="M467.02,220.65V242.28M465.22,220.65H468.82M465.22,242.28H468.82" stroke="#db7b89" stroke-width="0.9" fill="none"/>
<path d="M472.47,220.65V242.28M470.67,220.65H474.27M470.67,242.28H474.27" stroke="#e2b48a" stroke-width="0.9" fill="none"/>
<path d="M477.93,213.44V235.07M476.12,213.44H479.73M476.12,235.07H479.73" stroke="#7a9e91" stroke-width="0.9" fill="none"/>
<path d="M483.38,213.44V235.07M481.57,213.44H485.18M481.57,235.07H485.18" stroke="#7189a6" stroke-width="0.9" fill="none"/>
<rect x="464.82" y="225.66" width="4.4" height="4.4" fill="#c0122c"/>
<circle cx="472.47" cy="227.86" r="2.2" fill="#c4802f" stroke="#9a6222" stroke-width="0.5"/>
<path d="M477.93,225.86 L480.12,230.16 L475.73,230.16Z" fill="#1c5a42"/>
<path d="M480.93,225.06 L485.82,225.06 L483.38,229.66Z" fill="#bccde0" stroke="#43658e" stroke-width="0.8" stroke-linejoin="miter"/>
<path d="M492.32,213.44V235.07M490.52,213.44H494.12M490.52,235.07H494.12" stroke="#db7b89" stroke-width="0.9" fill="none"/>
<path d="M497.77,213.44V235.07M495.97,213.44H499.57M495.97,235.07H499.57" stroke="#e2b48a" stroke-width="0.9" fill="none"/>
<path d="M503.23,206.23V235.07M501.43,206.23H505.03M501.43,235.07H505.03" stroke="#7a9e91" stroke-width="0.9" fill="none"/>
<path d="M508.68,199.02V227.86M506.88,199.02H510.48M506.88,227.86H510.48" stroke="#7189a6" stroke-width="0.9" fill="none"/>
<rect x="490.12" y="225.66" width="4.4" height="4.4" fill="#c0122c"/>
<circle cx="497.77" cy="227.86" r="2.2" fill="#c4802f" stroke="#9a6222" stroke-width="0.5"/>
<path d="M503.23,211.44 L505.43,215.74 L501.03,215.74Z" fill="#1c5a42"/>
<path d="M506.23,210.64 L511.12,210.64 L508.68,215.24Z" fill="#bccde0" stroke="#43658e" stroke-width="0.8" stroke-linejoin="miter"/>
<path d="M311.20,181.00V245.31H513.00" stroke="#2a2a2a" stroke-width="1" fill="none"/>
<line x1="308.00" y1="242.28" x2="311.20" y2="242.28" stroke="#2a2a2a" stroke-width="0.9"/>
<text x="304.50" y="244.36" font-size="6.3" text-anchor="end" font-weight="normal" fill="#333" stroke="#333" stroke-width="0.25" >1</text>
<line x1="308.00" y1="235.07" x2="311.20" y2="235.07" stroke="#2a2a2a" stroke-width="0.9"/>
<text x="304.50" y="237.15" font-size="6.3" text-anchor="end" font-weight="normal" fill="#333" stroke="#333" stroke-width="0.25" >2</text>
<line x1="308.00" y1="227.86" x2="311.20" y2="227.86" stroke="#2a2a2a" stroke-width="0.9"/>
<text x="304.50" y="229.94" font-size="6.3" text-anchor="end" font-weight="normal" fill="#333" stroke="#333" stroke-width="0.25" >3</text>
<line x1="308.00" y1="220.65" x2="311.20" y2="220.65" stroke="#2a2a2a" stroke-width="0.9"/>
<text x="304.50" y="222.73" font-size="6.3" text-anchor="end" font-weight="normal" fill="#333" stroke="#333" stroke-width="0.25" >4</text>
<line x1="308.00" y1="213.44" x2="311.20" y2="213.44" stroke="#2a2a2a" stroke-width="0.9"/>
<text x="304.50" y="215.52" font-size="6.3" text-anchor="end" font-weight="normal" fill="#333" stroke="#333" stroke-width="0.25" >5</text>
<line x1="308.00" y1="206.23" x2="311.20" y2="206.23" stroke="#2a2a2a" stroke-width="0.9"/>
<text x="304.50" y="208.31" font-size="6.3" text-anchor="end" font-weight="normal" fill="#333" stroke="#333" stroke-width="0.25" >6</text>
<line x1="308.00" y1="199.02" x2="311.20" y2="199.02" stroke="#2a2a2a" stroke-width="0.9"/>
<text x="304.50" y="201.10" font-size="6.3" text-anchor="end" font-weight="normal" fill="#333" stroke="#333" stroke-width="0.25" >7</text>
<line x1="308.00" y1="191.81" x2="311.20" y2="191.81" stroke="#2a2a2a" stroke-width="0.9"/>
<text x="304.50" y="193.89" font-size="6.3" text-anchor="end" font-weight="normal" fill="#333" stroke="#333" stroke-width="0.25" >8</text>
<line x1="308.00" y1="184.60" x2="311.20" y2="184.60" stroke="#2a2a2a" stroke-width="0.9"/>
<text x="304.50" y="186.68" font-size="6.3" text-anchor="end" font-weight="normal" fill="#333" stroke="#333" stroke-width="0.25" >9</text>
<line x1="323.40" y1="245.31" x2="323.40" y2="248.61" stroke="#2a2a2a" stroke-width="0.9"/>
<text transform="translate(326.60,256.21) rotate(-45)" font-size="6.5" text-anchor="end" fill="#222" stroke="#222" stroke-width="0.25"><tspan x="0" y="0.00">HSCT</tspan></text>
<line x1="348.70" y1="245.31" x2="348.70" y2="248.61" stroke="#2a2a2a" stroke-width="0.9"/>
<text transform="translate(351.90,256.21) rotate(-45)" font-size="6.5" text-anchor="end" fill="#222" stroke="#222" stroke-width="0.25"><tspan x="0" y="0.00">triple IST with</tspan><tspan x="0" y="7.00">epag</tspan></text>
<line x1="374.00" y1="245.31" x2="374.00" y2="248.61" stroke="#2a2a2a" stroke-width="0.9"/>
<text transform="translate(377.20,256.21) rotate(-45)" font-size="6.5" text-anchor="end" fill="#222" stroke="#222" stroke-width="0.25"><tspan x="0" y="0.00">triple IST + romi</tspan></text>
<line x1="399.30" y1="245.31" x2="399.30" y2="248.61" stroke="#2a2a2a" stroke-width="0.9"/>
<text transform="translate(402.50,256.21) rotate(-45)" font-size="6.5" text-anchor="end" fill="#222" stroke="#222" stroke-width="0.25"><tspan x="0" y="0.00">IST without</tspan><tspan x="0" y="7.00">TPO-RA</tspan></text>
<line x1="424.60" y1="245.31" x2="424.60" y2="248.61" stroke="#2a2a2a" stroke-width="0.9"/>
<text transform="translate(427.80,256.21) rotate(-45)" font-size="6.5" text-anchor="end" fill="#222" stroke="#222" stroke-width="0.25"><tspan x="0" y="0.00">low intensity IST</tspan><tspan x="0" y="7.00">+ epag</tspan></text>
<line x1="449.90" y1="245.31" x2="449.90" y2="248.61" stroke="#2a2a2a" stroke-width="0.9"/>
<text transform="translate(453.10,256.21) rotate(-45)" font-size="6.5" text-anchor="end" fill="#222" stroke="#222" stroke-width="0.25"><tspan x="0" y="0.00">low intensity IST</tspan><tspan x="0" y="7.00">+ romi</tspan></text>
<line x1="475.20" y1="245.31" x2="475.20" y2="248.61" stroke="#2a2a2a" stroke-width="0.9"/>
<text transform="translate(478.40,256.21) rotate(-45)" font-size="6.5" text-anchor="end" fill="#222" stroke="#222" stroke-width="0.25"><tspan x="0" y="0.00">low intensity</tspan><tspan x="0" y="7.00">without TPO-RA</tspan></text>
<line x1="500.50" y1="245.31" x2="500.50" y2="248.61" stroke="#2a2a2a" stroke-width="0.9"/>
<text transform="translate(503.70,256.21) rotate(-45)" font-size="6.5" text-anchor="end" fill="#222" stroke="#222" stroke-width="0.25"><tspan x="0" y="0.00">eltrombopag</tspan><tspan x="0" y="7.00">monotherapy</tspan></text>
<text x="312.80" y="176.69" font-size="6.9" text-anchor="start" font-weight="normal" fill="#2e2e2e" stroke="#2e2e2e" stroke-width="0.15" textLength="84.3" lengthAdjust="spacingAndGlyphs" >If best available donor– MUD</text>
<text transform="translate(295.60,213.15) rotate(-90) scale(0.7051,1)" font-size="8.6" text-anchor="middle" fill="#1a1a1a" stroke="#1a1a1a" stroke-width="0.45">Appropriateness of therapy</text>
<rect x="42.60" y="320.09" width="202.00" height="21.63" fill="#e0edd8"/>
<rect x="42.60" y="363.36" width="202.00" height="21.05" fill="#f3d5cd"/>
<line x1="42.60" y1="320.09" x2="244.60" y2="320.09" stroke="#666" stroke-width="1" stroke-dasharray="1 1.2"/>
<line x1="42.60" y1="341.72" x2="244.60" y2="341.72" stroke="#666" stroke-width="1" stroke-dasharray="1 1.2"/>
<line x1="42.60" y1="363.36" x2="244.60" y2="363.36" stroke="#666" stroke-width="1" stroke-dasharray="1 1.2"/>
<path d="M46.33,323.70V338.12M44.53,323.70H48.12M44.53,338.12H48.12" stroke="#db7b89" stroke-width="0.9" fill="none"/>
<path d="M51.77,323.70V338.12M49.98,323.70H53.57M49.98,338.12H53.57" stroke="#e2b48a" stroke-width="0.9" fill="none"/>
<path d="M57.23,323.70V352.54M55.43,323.70H59.02M55.43,352.54H59.02" stroke="#7a9e91" stroke-width="0.9" fill="none"/>
<path d="M62.67,330.91V359.75M60.88,330.91H64.47M60.88,359.75H64.47" stroke="#7189a6" stroke-width="0.9" fill="none"/>
<rect x="44.12" y="321.50" width="4.4" height="4.4" fill="#c0122c"/>
<circle cx="51.77" cy="330.91" r="2.2" fill="#c4802f" stroke="#9a6222" stroke-width="0.5"/>
<path d="M57.23,336.12 L59.43,340.42 L55.02,340.42Z" fill="#1c5a42"/>
<path d="M60.22,349.74 L65.12,349.74 L62.67,354.34Z" fill="#bccde0" stroke="#43658e" stroke-width="0.8" stroke-linejoin="miter"/>
<path d="M71.75,323.70V359.75M69.95,323.70H73.55M69.95,359.75H73.55" stroke="#db7b89" stroke-width="0.9" fill="none"/>
<path d="M77.20,323.70V359.75M75.40,323.70H79.00M75.40,359.75H79.00" stroke="#e2b48a" stroke-width="0.9" fill="none"/>
<path d="M82.64,330.91V359.75M80.84,330.91H84.44M80.84,359.75H84.44" stroke="#7a9e91" stroke-width="0.9" fill="none"/>
<path d="M88.09,330.91V374.17M86.30,330.91H89.89M86.30,374.17H89.89" stroke="#7189a6" stroke-width="0.9" fill="none"/>
<rect x="69.55" y="343.13" width="4.4" height="4.4" fill="#c0122c"/>
<circle cx="77.20" cy="338.12" r="2.2" fill="#c4802f" stroke="#9a6222" stroke-width="0.5"/>
<path d="M82.64,336.12 L84.84,340.42 L80.44,340.42Z" fill="#1c5a42"/>
<path d="M85.64,335.32 L90.55,335.32 L88.09,339.92Z" fill="#bccde0" stroke="#43658e" stroke-width="0.8" stroke-linejoin="miter"/>
<path d="M97.17,345.33V366.96M95.37,345.33H98.97M95.37,366.96H98.97" stroke="#db7b89" stroke-width="0.9" fill="none"/>
<path d="M102.62,330.91V366.96M100.82,330.91H104.42M100.82,366.96H104.42" stroke="#e2b48a" stroke-width="0.9" fill="none"/>
<path d="M108.06,330.91V366.96M106.27,330.91H109.86M106.27,366.96H109.86" stroke="#7a9e91" stroke-width="0.9" fill="none"/>
<path d="M113.52,330.91V374.17M111.72,330.91H115.31M111.72,374.17H115.31" stroke="#7189a6" stroke-width="0.9" fill="none"/>
<rect x="94.97" y="357.55" width="4.4" height="4.4" fill="#c0122c"/>
<circle cx="102.62" cy="352.54" r="2.2" fill="#c4802f" stroke="#9a6222" stroke-width="0.5"/>
<path d="M108.06,350.54 L110.27,354.84 L105.86,354.84Z" fill="#1c5a42"/>
<path d="M111.06,349.74 L115.97,349.74 L113.52,354.34Z" fill="#bccde0" stroke="#43658e" stroke-width="0.8" stroke-linejoin="miter"/>
<path d="M122.58,338.12V374.17M120.78,338.12H124.38M120.78,374.17H124.38" stroke="#db7b89" stroke-width="0.9" fill="none"/>
<path d="M128.03,345.33V374.17M126.23,345.33H129.84M126.23,374.17H129.84" stroke="#e2b48a" stroke-width="0.9" fill="none"/>
<path d="M133.48,352.54V374.17M131.68,352.54H135.28M131.68,374.17H135.28" stroke="#7a9e91" stroke-width="0.9" fill="none"/>
<path d="M138.94,352.54V374.17M137.13,352.54H140.74M137.13,374.17H140.74" stroke="#7189a6" stroke-width="0.9" fill="none"/>
<rect x="120.38" y="350.34" width="4.4" height="4.4" fill="#c0122c"/>
<circle cx="128.03" cy="359.75" r="2.2" fill="#c4802f" stroke="#9a6222" stroke-width="0.5"/>
<path d="M133.48,364.96 L135.68,369.26 L131.28,369.26Z" fill="#1c5a42"/>
<path d="M136.49,364.16 L141.38,364.16 L138.94,368.76Z" fill="#bccde0" stroke="#43658e" stroke-width="0.8" stroke-linejoin="miter"/>
<path d="M148.00,352.54V374.17M146.20,352.54H149.81M146.20,374.17H149.81" stroke="#db7b89" stroke-width="0.9" fill="none"/>
<path d="M153.46,345.33V374.17M151.66,345.33H155.26M151.66,374.17H155.26" stroke="#e2b48a" stroke-width="0.9" fill="none"/>
<path d="M158.91,345.33V374.17M157.10,345.33H160.71M157.10,374.17H160.71" stroke="#7a9e91" stroke-width="0.9" fill="none"/>
<path d="M164.36,338.12V374.17M162.56,338.12H166.16M162.56,374.17H166.16" stroke="#7189a6" stroke-width="0.9" fill="none"/>
<rect x="145.81" y="357.55" width="4.4" height="4.4" fill="#c0122c"/>
<circle cx="153.46" cy="359.75" r="2.2" fill="#c4802f" stroke="#9a6222" stroke-width="0.5"/>
<path d="M158.91,357.75 L161.10,362.05 L156.71,362.05Z" fill="#1c5a42"/>
<path d="M161.91,356.95 L166.81,356.95 L164.36,361.55Z" fill="#bccde0" stroke="#43658e" stroke-width="0.8" stroke-linejoin="miter"/>
<path d="M173.43,352.54V374.17M171.62,352.54H175.23M171.62,374.17H175.23" stroke="#db7b89" stroke-width="0.9" fill="none"/>
<path d="M178.88,345.33V374.17M177.08,345.33H180.68M177.08,374.17H180.68" stroke="#e2b48a" stroke-width="0.9" fill="none"/>
<path d="M184.33,345.33V374.17M182.53,345.33H186.13M182.53,374.17H186.13" stroke="#7a9e91" stroke-width="0.9" fill="none"/>
<path d="M189.78,345.33V374.17M187.98,345.33H191.58M187.98,374.17H191.58" stroke="#7189a6" stroke-width="0.9" fill="none"/>
<rect x="171.23" y="364.76" width="4.4" height="4.4" fill="#c0122c"/>
<circle cx="178.88" cy="366.96" r="2.2" fill="#c4802f" stroke="#9a6222" stroke-width="0.5"/>
<path d="M184.33,357.75 L186.53,362.05 L182.13,362.05Z" fill="#1c5a42"/>
<path d="M187.33,356.95 L192.23,356.95 L189.78,361.55Z" fill="#bccde0" stroke="#43658e" stroke-width="0.8" stroke-linejoin="miter"/>
<path d="M198.84,366.96V374.17M197.04,366.96H200.65M197.04,374.17H200.65" stroke="#db7b89" stroke-width="0.9" fill="none"/>
<path d="M204.30,359.75V374.17M202.50,359.75H206.10M202.50,374.17H206.10" stroke="#e2b48a" stroke-width="0.9" fill="none"/>
<path d="M209.75,359.75V374.17M207.94,359.75H211.55M207.94,374.17H211.55" stroke="#7a9e91" stroke-width="0.9" fill="none"/>
<path d="M215.20,359.75V374.17M213.40,359.75H217.00M213.40,374.17H217.00" stroke="#7189a6" stroke-width="0.9" fill="none"/>
<rect x="196.65" y="371.97" width="4.4" height="4.4" fill="#c0122c"/>
<circle cx="204.30" cy="366.96" r="2.2" fill="#c4802f" stroke="#9a6222" stroke-width="0.5"/>
<path d="M209.75,364.96 L211.94,369.26 L207.55,369.26Z" fill="#1c5a42"/>
<path d="M212.75,364.16 L217.65,364.16 L215.20,368.76Z" fill="#bccde0" stroke="#43658e" stroke-width="0.8" stroke-linejoin="miter"/>
<path d="M224.26,352.54V381.38M222.46,352.54H226.06M222.46,381.38H226.06" stroke="#db7b89" stroke-width="0.9" fill="none"/>
<path d="M229.72,352.54V381.38M227.91,352.54H231.52M227.91,381.38H231.52" stroke="#e2b48a" stroke-width="0.9" fill="none"/>
<path d="M235.16,345.33V374.17M233.36,345.33H236.97M233.36,374.17H236.97" stroke="#7a9e91" stroke-width="0.9" fill="none"/>
<path d="M240.62,345.33V374.17M238.81,345.33H242.42M238.81,374.17H242.42" stroke="#7189a6" stroke-width="0.9" fill="none"/>
<rect x="222.06" y="371.97" width="4.4" height="4.4" fill="#c0122c"/>
<circle cx="229.72" cy="366.96" r="2.2" fill="#c4802f" stroke="#9a6222" stroke-width="0.5"/>
<path d="M235.16,350.54 L237.36,354.84 L232.97,354.84Z" fill="#1c5a42"/>
<path d="M238.17,349.74 L243.06,349.74 L240.62,354.34Z" fill="#bccde0" stroke="#43658e" stroke-width="0.8" stroke-linejoin="miter"/>
<path d="M42.60,320.09V384.41H244.60" stroke="#2a2a2a" stroke-width="1" fill="none"/>
<line x1="39.40" y1="381.38" x2="42.60" y2="381.38" stroke="#2a2a2a" stroke-width="0.9"/>
<text x="35.90" y="383.46" font-size="6.3" text-anchor="end" font-weight="normal" fill="#333" stroke="#333" stroke-width="0.25" >1</text>
<line x1="39.40" y1="374.17" x2="42.60" y2="374.17" stroke="#2a2a2a" stroke-width="0.9"/>
<text x="35.90" y="376.25" font-size="6.3" text-anchor="end" font-weight="normal" fill="#333" stroke="#333" stroke-width="0.25" >2</text>
<line x1="39.40" y1="366.96" x2="42.60" y2="366.96" stroke="#2a2a2a" stroke-width="0.9"/>
<text x="35.90" y="369.04" font-size="6.3" text-anchor="end" font-weight="normal" fill="#333" stroke="#333" stroke-width="0.25" >3</text>
<line x1="39.40" y1="359.75" x2="42.60" y2="359.75" stroke="#2a2a2a" stroke-width="0.9"/>
<text x="35.90" y="361.83" font-size="6.3" text-anchor="end" font-weight="normal" fill="#333" stroke="#333" stroke-width="0.25" >4</text>
<line x1="39.40" y1="352.54" x2="42.60" y2="352.54" stroke="#2a2a2a" stroke-width="0.9"/>
<text x="35.90" y="354.62" font-size="6.3" text-anchor="end" font-weight="normal" fill="#333" stroke="#333" stroke-width="0.25" >5</text>
<line x1="39.40" y1="345.33" x2="42.60" y2="345.33" stroke="#2a2a2a" stroke-width="0.9"/>
<text x="35.90" y="347.41" font-size="6.3" text-anchor="end" font-weight="normal" fill="#333" stroke="#333" stroke-width="0.25" >6</text>
<line x1="39.40" y1="338.12" x2="42.60" y2="338.12" stroke="#2a2a2a" stroke-width="0.9"/>
<text x="35.90" y="340.20" font-size="6.3" text-anchor="end" font-weight="normal" fill="#333" stroke="#333" stroke-width="0.25" >7</text>
<line x1="39.40" y1="330.91" x2="42.60" y2="330.91" stroke="#2a2a2a" stroke-width="0.9"/>
<text x="35.90" y="332.99" font-size="6.3" text-anchor="end" font-weight="normal" fill="#333" stroke="#333" stroke-width="0.25" >8</text>
<line x1="39.40" y1="323.70" x2="42.60" y2="323.70" stroke="#2a2a2a" stroke-width="0.9"/>
<text x="35.90" y="325.78" font-size="6.3" text-anchor="end" font-weight="normal" fill="#333" stroke="#333" stroke-width="0.25" >9</text>
<line x1="54.50" y1="384.41" x2="54.50" y2="387.71" stroke="#2a2a2a" stroke-width="0.9"/>
<text transform="translate(57.70,395.31) rotate(-45)" font-size="6.5" text-anchor="end" fill="#222" stroke="#222" stroke-width="0.25"><tspan x="0" y="0.00">HSCT</tspan></text>
<line x1="79.92" y1="384.41" x2="79.92" y2="387.71" stroke="#2a2a2a" stroke-width="0.9"/>
<text transform="translate(83.12,395.31) rotate(-45)" font-size="6.5" text-anchor="end" fill="#222" stroke="#222" stroke-width="0.25"><tspan x="0" y="0.00">triple IST with</tspan><tspan x="0" y="7.00">epag</tspan></text>
<line x1="105.34" y1="384.41" x2="105.34" y2="387.71" stroke="#2a2a2a" stroke-width="0.9"/>
<text transform="translate(108.54,395.31) rotate(-45)" font-size="6.5" text-anchor="end" fill="#222" stroke="#222" stroke-width="0.25"><tspan x="0" y="0.00">triple IST + romi</tspan></text>
<line x1="130.76" y1="384.41" x2="130.76" y2="387.71" stroke="#2a2a2a" stroke-width="0.9"/>
<text transform="translate(133.96,395.31) rotate(-45)" font-size="6.5" text-anchor="end" fill="#222" stroke="#222" stroke-width="0.25"><tspan x="0" y="0.00">IST without</tspan><tspan x="0" y="7.00">TPO-RA</tspan></text>
<line x1="156.18" y1="384.41" x2="156.18" y2="387.71" stroke="#2a2a2a" stroke-width="0.9"/>
<text transform="translate(159.38,395.31) rotate(-45)" font-size="6.5" text-anchor="end" fill="#222" stroke="#222" stroke-width="0.25"><tspan x="0" y="0.00">low intensity IST</tspan><tspan x="0" y="7.00">+ epag</tspan></text>
<line x1="181.60" y1="384.41" x2="181.60" y2="387.71" stroke="#2a2a2a" stroke-width="0.9"/>
<text transform="translate(184.80,395.31) rotate(-45)" font-size="6.5" text-anchor="end" fill="#222" stroke="#222" stroke-width="0.25"><tspan x="0" y="0.00">low intensity IST</tspan><tspan x="0" y="7.00">+ romi</tspan></text>
<line x1="207.02" y1="384.41" x2="207.02" y2="387.71" stroke="#2a2a2a" stroke-width="0.9"/>
<text transform="translate(210.22,395.31) rotate(-45)" font-size="6.5" text-anchor="end" fill="#222" stroke="#222" stroke-width="0.25"><tspan x="0" y="0.00">low intensity</tspan><tspan x="0" y="7.00">without TPO-RA</tspan></text>
<line x1="232.44" y1="384.41" x2="232.44" y2="387.71" stroke="#2a2a2a" stroke-width="0.9"/>
<text transform="translate(235.64,395.31) rotate(-45)" font-size="6.5" text-anchor="end" fill="#222" stroke="#222" stroke-width="0.25"><tspan x="0" y="0.00">eltrombopag</tspan><tspan x="0" y="7.00">monotherapy</tspan></text>
<text x="44.20" y="315.79" font-size="6.9" text-anchor="start" font-weight="normal" fill="#2e2e2e" stroke="#2e2e2e" stroke-width="0.15" textLength="115.2" lengthAdjust="spacingAndGlyphs" >If best available donor– MMUD or haplo</text>
<text transform="translate(27.00,352.25) rotate(-90) scale(0.7051,1)" font-size="8.6" text-anchor="middle" fill="#1a1a1a" stroke="#1a1a1a" stroke-width="0.45">Appropriateness of therapy</text>
<rect x="311.20" y="320.09" width="201.80" height="21.63" fill="#e0edd8"/>
<rect x="311.20" y="363.36" width="201.80" height="21.05" fill="#f3d5cd"/>
<line x1="311.20" y1="320.09" x2="513.00" y2="320.09" stroke="#666" stroke-width="1" stroke-dasharray="1 1.2"/>
<line x1="311.20" y1="341.72" x2="513.00" y2="341.72" stroke="#666" stroke-width="1" stroke-dasharray="1 1.2"/>
<line x1="311.20" y1="363.36" x2="513.00" y2="363.36" stroke="#666" stroke-width="1" stroke-dasharray="1 1.2"/>
<path d="M315.22,323.70V338.12M313.42,323.70H317.02M313.42,338.12H317.02" stroke="#db7b89" stroke-width="0.9" fill="none"/>
<path d="M320.67,323.70V338.12M318.87,323.70H322.47M318.87,338.12H322.47" stroke="#e2b48a" stroke-width="0.9" fill="none"/>
<path d="M326.12,330.91V345.33M324.32,330.91H327.93M324.32,345.33H327.93" stroke="#7a9e91" stroke-width="0.9" fill="none"/>
<path d="M331.57,338.12V352.54M329.77,338.12H333.38M329.77,352.54H333.38" stroke="#7189a6" stroke-width="0.9" fill="none"/>
<rect x="313.02" y="328.71" width="4.4" height="4.4" fill="#c0122c"/>
<circle cx="320.67" cy="330.91" r="2.2" fill="#c4802f" stroke="#9a6222" stroke-width="0.5"/>
<path d="M326.12,343.33 L328.32,347.63 L323.93,347.63Z" fill="#1c5a42"/>
<path d="M329.12,349.74 L334.02,349.74 L331.57,354.34Z" fill="#bccde0" stroke="#43658e" stroke-width="0.8" stroke-linejoin="miter"/>
<path d="M340.52,338.12V359.75M338.72,338.12H342.32M338.72,359.75H342.32" stroke="#db7b89" stroke-width="0.9" fill="none"/>
<path d="M345.97,338.12V359.75M344.17,338.12H347.77M344.17,359.75H347.77" stroke="#e2b48a" stroke-width="0.9" fill="none"/>
<path d="M351.43,330.91V359.75M349.62,330.91H353.23M349.62,359.75H353.23" stroke="#7a9e91" stroke-width="0.9" fill="none"/>
<path d="M356.88,330.91V352.54M355.07,330.91H358.68M355.07,352.54H358.68" stroke="#7189a6" stroke-width="0.9" fill="none"/>
<rect x="338.32" y="343.13" width="4.4" height="4.4" fill="#c0122c"/>
<circle cx="345.97" cy="345.33" r="2.2" fill="#c4802f" stroke="#9a6222" stroke-width="0.5"/>
<path d="M351.43,336.12 L353.62,340.42 L349.23,340.42Z" fill="#1c5a42"/>
<path d="M354.43,335.32 L359.32,335.32 L356.88,339.92Z" fill="#bccde0" stroke="#43658e" stroke-width="0.8" stroke-linejoin="miter"/>
<path d="M365.82,352.54V374.17M364.02,352.54H367.62M364.02,374.17H367.62" stroke="#db7b89" stroke-width="0.9" fill="none"/>
<path d="M371.27,352.54V366.96M369.47,352.54H373.07M369.47,366.96H373.07" stroke="#e2b48a" stroke-width="0.9" fill="none"/>
<path d="M376.73,345.33V359.75M374.93,345.33H378.53M374.93,359.75H378.53" stroke="#7a9e91" stroke-width="0.9" fill="none"/>
<path d="M382.18,345.33V359.75M380.38,345.33H383.98M380.38,359.75H383.98" stroke="#7189a6" stroke-width="0.9" fill="none"/>
<rect x="363.62" y="357.55" width="4.4" height="4.4" fill="#c0122c"/>
<circle cx="371.27" cy="359.75" r="2.2" fill="#c4802f" stroke="#9a6222" stroke-width="0.5"/>
<path d="M376.73,350.54 L378.93,354.84 L374.53,354.84Z" fill="#1c5a42"/>
<path d="M379.73,349.74 L384.62,349.74 L382.18,354.34Z" fill="#bccde0" stroke="#43658e" stroke-width="0.8" stroke-linejoin="miter"/>
<path d="M391.12,352.54V381.38M389.32,352.54H392.92M389.32,381.38H392.92" stroke="#db7b89" stroke-width="0.9" fill="none"/>
<path d="M396.57,359.75V381.38M394.77,359.75H398.37M394.77,381.38H398.37" stroke="#e2b48a" stroke-width="0.9" fill="none"/>
<path d="M402.02,352.54V366.96M400.22,352.54H403.82M400.22,366.96H403.82" stroke="#7a9e91" stroke-width="0.9" fill="none"/>
<path d="M407.47,352.54V366.96M405.67,352.54H409.27M405.67,366.96H409.27" stroke="#7189a6" stroke-width="0.9" fill="none"/>
<rect x="388.92" y="364.76" width="4.4" height="4.4" fill="#c0122c"/>
<circle cx="396.57" cy="366.96" r="2.2" fill="#c4802f" stroke="#9a6222" stroke-width="0.5"/>
<path d="M402.02,357.75 L404.22,362.05 L399.82,362.05Z" fill="#1c5a42"/>
<path d="M405.02,356.95 L409.92,356.95 L407.47,361.55Z" fill="#bccde0" stroke="#43658e" stroke-width="0.8" stroke-linejoin="miter"/>
<path d="M416.42,338.12V366.96M414.62,338.12H418.22M414.62,366.96H418.22" stroke="#db7b89" stroke-width="0.9" fill="none"/>
<path d="M421.87,338.12V359.75M420.07,338.12H423.67M420.07,359.75H423.67" stroke="#e2b48a" stroke-width="0.9" fill="none"/>
<path d="M427.32,338.12V359.75M425.52,338.12H429.12M425.52,359.75H429.12" stroke="#7a9e91" stroke-width="0.9" fill="none"/>
<path d="M432.77,338.12V352.54M430.97,338.12H434.57M430.97,352.54H434.57" stroke="#7189a6" stroke-width="0.9" fill="none"/>
<rect x="414.22" y="350.34" width="4.4" height="4.4" fill="#c0122c"/>
<circle cx="421.87" cy="352.54" r="2.2" fill="#c4802f" stroke="#9a6222" stroke-width="0.5"/>
<path d="M427.32,343.33 L429.52,347.63 L425.12,347.63Z" fill="#1c5a42"/>
<path d="M430.32,335.32 L435.22,335.32 L432.77,339.92Z" fill="#bccde0" stroke="#43658e" stroke-width="0.8" stroke-linejoin="miter"/>
<path d="M441.72,345.33V374.17M439.92,345.33H443.52M439.92,374.17H443.52" stroke="#db7b89" stroke-width="0.9" fill="none"/>
<path d="M447.17,345.33V366.96M445.37,345.33H448.97M445.37,366.96H448.97" stroke="#e2b48a" stroke-width="0.9" fill="none"/>
<path d="M452.62,330.91V366.96M450.82,330.91H454.43M450.82,366.96H454.43" stroke="#7a9e91" stroke-width="0.9" fill="none"/>
<path d="M458.07,330.91V366.96M456.27,330.91H459.88M456.27,366.96H459.88" stroke="#7189a6" stroke-width="0.9" fill="none"/>
<rect x="439.52" y="357.55" width="4.4" height="4.4" fill="#c0122c"/>
<circle cx="447.17" cy="359.75" r="2.2" fill="#c4802f" stroke="#9a6222" stroke-width="0.5"/>
<path d="M452.62,350.54 L454.82,354.84 L450.43,354.84Z" fill="#1c5a42"/>
<path d="M455.62,349.74 L460.52,349.74 L458.07,354.34Z" fill="#bccde0" stroke="#43658e" stroke-width="0.8" stroke-linejoin="miter"/>
<path d="M467.02,359.75V381.38M465.22,359.75H468.82M465.22,381.38H468.82" stroke="#db7b89" stroke-width="0.9" fill="none"/>
<path d="M472.47,359.75V381.38M470.67,359.75H474.27M470.67,381.38H474.27" stroke="#e2b48a" stroke-width="0.9" fill="none"/>
<path d="M477.93,352.54V374.17M476.12,352.54H479.73M476.12,374.17H479.73" stroke="#7a9e91" stroke-width="0.9" fill="none"/>
<path d="M483.38,352.54V374.17M481.57,352.54H485.18M481.57,374.17H485.18" stroke="#7189a6" stroke-width="0.9" fill="none"/>
<rect x="464.82" y="364.76" width="4.4" height="4.4" fill="#c0122c"/>
<circle cx="472.47" cy="366.96" r="2.2" fill="#c4802f" stroke="#9a6222" stroke-width="0.5"/>
<path d="M477.93,364.96 L480.12,369.26 L475.73,369.26Z" fill="#1c5a42"/>
<path d="M480.93,364.16 L485.82,364.16 L483.38,368.76Z" fill="#bccde0" stroke="#43658e" stroke-width="0.8" stroke-linejoin="miter"/>
<path d="M492.32,352.54V374.17M490.52,352.54H494.12M490.52,374.17H494.12" stroke="#db7b89" stroke-width="0.9" fill="none"/>
<path d="M497.77,345.33V374.17M495.97,345.33H499.57M495.97,374.17H499.57" stroke="#e2b48a" stroke-width="0.9" fill="none"/>
<path d="M503.23,338.12V374.17M501.43,338.12H505.03M501.43,374.17H505.03" stroke="#7a9e91" stroke-width="0.9" fill="none"/>
<path d="M508.68,338.12V366.96M506.88,338.12H510.48M506.88,366.96H510.48" stroke="#7189a6" stroke-width="0.9" fill="none"/>
<rect x="490.12" y="357.55" width="4.4" height="4.4" fill="#c0122c"/>
<circle cx="497.77" cy="359.75" r="2.2" fill="#c4802f" stroke="#9a6222" stroke-width="0.5"/>
<path d="M503.23,350.54 L505.43,354.84 L501.03,354.84Z" fill="#1c5a42"/>
<path d="M506.23,349.74 L511.12,349.74 L508.68,354.34Z" fill="#bccde0" stroke="#43658e" stroke-width="0.8" stroke-linejoin="miter"/>
<path d="M311.20,320.09V384.41H513.00" stroke="#2a2a2a" stroke-width="1" fill="none"/>
<line x1="308.00" y1="381.38" x2="311.20" y2="381.38" stroke="#2a2a2a" stroke-width="0.9"/>
<text x="304.50" y="383.46" font-size="6.3" text-anchor="end" font-weight="normal" fill="#333" stroke="#333" stroke-width="0.25" >1</text>
<line x1="308.00" y1="374.17" x2="311.20" y2="374.17" stroke="#2a2a2a" stroke-width="0.9"/>
<text x="304.50" y="376.25" font-size="6.3" text-anchor="end" font-weight="normal" fill="#333" stroke="#333" stroke-width="0.25" >2</text>
<line x1="308.00" y1="366.96" x2="311.20" y2="366.96" stroke="#2a2a2a" stroke-width="0.9"/>
<text x="304.50" y="369.04" font-size="6.3" text-anchor="end" font-weight="normal" fill="#333" stroke="#333" stroke-width="0.25" >3</text>
<line x1="308.00" y1="359.75" x2="311.20" y2="359.75" stroke="#2a2a2a" stroke-width="0.9"/>
<text x="304.50" y="361.83" font-size="6.3" text-anchor="end" font-weight="normal" fill="#333" stroke="#333" stroke-width="0.25" >4</text>
<line x1="308.00" y1="352.54" x2="311.20" y2="352.54" stroke="#2a2a2a" stroke-width="0.9"/>
<text x="304.50" y="354.62" font-size="6.3" text-anchor="end" font-weight="normal" fill="#333" stroke="#333" stroke-width="0.25" >5</text>
<line x1="308.00" y1="345.33" x2="311.20" y2="345.33" stroke="#2a2a2a" stroke-width="0.9"/>
<text x="304.50" y="347.41" font-size="6.3" text-anchor="end" font-weight="normal" fill="#333" stroke="#333" stroke-width="0.25" >6</text>
<line x1="308.00" y1="338.12" x2="311.20" y2="338.12" stroke="#2a2a2a" stroke-width="0.9"/>
<text x="304.50" y="340.20" font-size="6.3" text-anchor="end" font-weight="normal" fill="#333" stroke="#333" stroke-width="0.25" >7</text>
<line x1="308.00" y1="330.91" x2="311.20" y2="330.91" stroke="#2a2a2a" stroke-width="0.9"/>
<text x="304.50" y="332.99" font-size="6.3" text-anchor="end" font-weight="normal" fill="#333" stroke="#333" stroke-width="0.25" >8</text>
<line x1="308.00" y1="323.70" x2="311.20" y2="323.70" stroke="#2a2a2a" stroke-width="0.9"/>
<text x="304.50" y="325.78" font-size="6.3" text-anchor="end" font-weight="normal" fill="#333" stroke="#333" stroke-width="0.25" >9</text>
<line x1="323.40" y1="384.41" x2="323.40" y2="387.71" stroke="#2a2a2a" stroke-width="0.9"/>
<text transform="translate(326.60,395.31) rotate(-45)" font-size="6.5" text-anchor="end" fill="#222" stroke="#222" stroke-width="0.25"><tspan x="0" y="0.00">HSCT</tspan></text>
<line x1="348.70" y1="384.41" x2="348.70" y2="387.71" stroke="#2a2a2a" stroke-width="0.9"/>
<text transform="translate(351.90,395.31) rotate(-45)" font-size="6.5" text-anchor="end" fill="#222" stroke="#222" stroke-width="0.25"><tspan x="0" y="0.00">triple IST with</tspan><tspan x="0" y="7.00">epag</tspan></text>
<line x1="374.00" y1="384.41" x2="374.00" y2="387.71" stroke="#2a2a2a" stroke-width="0.9"/>
<text transform="translate(377.20,395.31) rotate(-45)" font-size="6.5" text-anchor="end" fill="#222" stroke="#222" stroke-width="0.25"><tspan x="0" y="0.00">triple IST + romi</tspan></text>
<line x1="399.30" y1="384.41" x2="399.30" y2="387.71" stroke="#2a2a2a" stroke-width="0.9"/>
<text transform="translate(402.50,395.31) rotate(-45)" font-size="6.5" text-anchor="end" fill="#222" stroke="#222" stroke-width="0.25"><tspan x="0" y="0.00">IST without</tspan><tspan x="0" y="7.00">TPO-RA</tspan></text>
<line x1="424.60" y1="384.41" x2="424.60" y2="387.71" stroke="#2a2a2a" stroke-width="0.9"/>
<text transform="translate(427.80,395.31) rotate(-45)" font-size="6.5" text-anchor="end" fill="#222" stroke="#222" stroke-width="0.25"><tspan x="0" y="0.00">low intensity IST</tspan><tspan x="0" y="7.00">+ epag</tspan></text>
<line x1="449.90" y1="384.41" x2="449.90" y2="387.71" stroke="#2a2a2a" stroke-width="0.9"/>
<text transform="translate(453.10,395.31) rotate(-45)" font-size="6.5" text-anchor="end" fill="#222" stroke="#222" stroke-width="0.25"><tspan x="0" y="0.00">low intensity IST</tspan><tspan x="0" y="7.00">+ romi</tspan></text>
<line x1="475.20" y1="384.41" x2="475.20" y2="387.71" stroke="#2a2a2a" stroke-width="0.9"/>
<text transform="translate(478.40,395.31) rotate(-45)" font-size="6.5" text-anchor="end" fill="#222" stroke="#222" stroke-width="0.25"><tspan x="0" y="0.00">low intensity</tspan><tspan x="0" y="7.00">without TPO-RA</tspan></text>
<line x1="500.50" y1="384.41" x2="500.50" y2="387.71" stroke="#2a2a2a" stroke-width="0.9"/>
<text transform="translate(503.70,395.31) rotate(-45)" font-size="6.5" text-anchor="end" fill="#222" stroke="#222" stroke-width="0.25"><tspan x="0" y="0.00">eltrombopag</tspan><tspan x="0" y="7.00">monotherapy</tspan></text>
<text x="312.80" y="315.79" font-size="6.9" text-anchor="start" font-weight="normal" fill="#2e2e2e" stroke="#2e2e2e" stroke-width="0.15" textLength="115.2" lengthAdjust="spacingAndGlyphs" >If best available donor– MMUD or haplo</text>
<text transform="translate(295.60,352.25) rotate(-90) scale(0.7051,1)" font-size="8.6" text-anchor="middle" fill="#1a1a1a" stroke="#1a1a1a" stroke-width="0.45">Appropriateness of therapy</text>
<rect x="48.6" y="443.50" width="4" height="4" fill="#c0122c"/>
<text x="56.30" y="447.60" font-size="6.6" text-anchor="start" font-weight="normal" fill="#333" stroke="#333" stroke-width="0.25" textLength="30.4" lengthAdjust="spacingAndGlyphs" >0-20 years</text>
<circle cx="95.8" cy="445.50" r="2.1" fill="#c4802f"/>
<text x="101.20" y="447.60" font-size="6.6" text-anchor="start" font-weight="normal" fill="#333" stroke="#333" stroke-width="0.25" textLength="34.4" lengthAdjust="spacingAndGlyphs" >21-40 years</text>
<path d="M144.8,443.40 L146.8,447.40 L142.8,447.40Z" fill="#1c5a42"/>
<text x="150.00" y="447.60" font-size="6.6" text-anchor="start" font-weight="normal" fill="#333" stroke="#333" stroke-width="0.25" textLength="34.6" lengthAdjust="spacingAndGlyphs" >41-60 years</text>
<path d="M191.6,443.20 L196.2,443.20 L193.9,447.60Z" fill="#fff" stroke="#43658e" stroke-width="0.8"/>
<text x="199.40" y="447.60" font-size="6.6" text-anchor="start" font-weight="normal" fill="#333" stroke="#333" stroke-width="0.25" textLength="39.6" lengthAdjust="spacingAndGlyphs" >over 60 years</text>
<text x="24.20" y="479.80" font-size="8.9" text-anchor="start" font-weight="normal" fill="#222" stroke="#222" stroke-width="0.1" textLength="115.0" lengthAdjust="spacingAndGlyphs" >Early relapse in medically unfit</text>
<rect x="108.70" y="501.37" width="99.70" height="29.01" fill="#e0edd8"/>
<rect x="108.70" y="559.38" width="99.70" height="28.53" fill="#f3d5cd"/>
<line x1="108.70" y1="501.37" x2="208.40" y2="501.37" stroke="#666" stroke-width="1" stroke-dasharray="1 1.2"/>
<line x1="108.70" y1="530.38" x2="208.40" y2="530.38" stroke="#666" stroke-width="1" stroke-dasharray="1 1.2"/>
<line x1="108.70" y1="559.38" x2="208.40" y2="559.38" stroke="#666" stroke-width="1" stroke-dasharray="1 1.2"/>
<path d="M123.90,515.87V544.88M122.10,515.87H125.70M122.10,544.88H125.70" stroke="#8a7a62" stroke-width="0.9" fill="none"/>
<path d="M146.65,506.20V535.21M144.85,506.20H148.45M144.85,535.21H148.45" stroke="#8a7a62" stroke-width="0.9" fill="none"/>
<path d="M169.40,525.54V564.22M167.60,525.54H171.20M167.60,564.22H171.20" stroke="#8a7a62" stroke-width="0.9" fill="none"/>
<path d="M192.15,515.87V544.88M190.35,515.87H193.95M190.35,544.88H193.95" stroke="#8a7a62" stroke-width="0.9" fill="none"/>
<path d="M123.90,522.74 L126.90,525.54 L123.90,528.34 L120.90,525.54Z" fill="#41290f"/>
<path d="M146.65,532.41 L149.65,535.21 L146.65,538.01 L143.65,535.21Z" fill="#41290f"/>
<path d="M169.40,551.75 L172.40,554.55 L169.40,557.35 L166.40,554.55Z" fill="#41290f"/>
<path d="M192.15,532.41 L195.15,535.21 L192.15,538.01 L189.15,535.21Z" fill="#41290f"/>
<path d="M108.70,501.37V587.91H208.40" stroke="#2a2a2a" stroke-width="1" fill="none"/>
<line x1="105.50" y1="583.56" x2="108.70" y2="583.56" stroke="#2a2a2a" stroke-width="0.9"/>
<text x="101.80" y="585.64" font-size="6.3" text-anchor="end" font-weight="normal" fill="#333" stroke="#333" stroke-width="0.25" >1</text>
<line x1="105.50" y1="573.89" x2="108.70" y2="573.89" stroke="#2a2a2a" stroke-width="0.9"/>
<text x="101.80" y="575.97" font-size="6.3" text-anchor="end" font-weight="normal" fill="#333" stroke="#333" stroke-width="0.25" >2</text>
<line x1="105.50" y1="564.22" x2="108.70" y2="564.22" stroke="#2a2a2a" stroke-width="0.9"/>
<text x="101.80" y="566.30" font-size="6.3" text-anchor="end" font-weight="normal" fill="#333" stroke="#333" stroke-width="0.25" >3</text>
<line x1="105.50" y1="554.55" x2="108.70" y2="554.55" stroke="#2a2a2a" stroke-width="0.9"/>
<text x="101.80" y="556.63" font-size="6.3" text-anchor="end" font-weight="normal" fill="#333" stroke="#333" stroke-width="0.25" >4</text>
<line x1="105.50" y1="544.88" x2="108.70" y2="544.88" stroke="#2a2a2a" stroke-width="0.9"/>
<text x="101.80" y="546.96" font-size="6.3" text-anchor="end" font-weight="normal" fill="#333" stroke="#333" stroke-width="0.25" >5</text>
<line x1="105.50" y1="535.21" x2="108.70" y2="535.21" stroke="#2a2a2a" stroke-width="0.9"/>
<text x="101.80" y="537.29" font-size="6.3" text-anchor="end" font-weight="normal" fill="#333" stroke="#333" stroke-width="0.25" >6</text>
<line x1="105.50" y1="525.54" x2="108.70" y2="525.54" stroke="#2a2a2a" stroke-width="0.9"/>
<text x="101.80" y="527.62" font-size="6.3" text-anchor="end" font-weight="normal" fill="#333" stroke="#333" stroke-width="0.25" >7</text>
<line x1="105.50" y1="515.87" x2="108.70" y2="515.87" stroke="#2a2a2a" stroke-width="0.9"/>
<text x="101.80" y="517.95" font-size="6.3" text-anchor="end" font-weight="normal" fill="#333" stroke="#333" stroke-width="0.25" >8</text>
<line x1="105.50" y1="506.20" x2="108.70" y2="506.20" stroke="#2a2a2a" stroke-width="0.9"/>
<text x="101.80" y="508.28" font-size="6.3" text-anchor="end" font-weight="normal" fill="#333" stroke="#333" stroke-width="0.25" >9</text>
<line x1="123.90" y1="587.91" x2="123.90" y2="591.21" stroke="#2a2a2a" stroke-width="0.9"/>
<text transform="translate(127.60,599.91) rotate(-29)" font-size="6.6" text-anchor="end" fill="#222" stroke="#222" stroke-width="0.25">low intensity + epag</text>
<line x1="146.65" y1="587.91" x2="146.65" y2="591.21" stroke="#2a2a2a" stroke-width="0.9"/>
<text transform="translate(150.35,599.91) rotate(-29)" font-size="6.6" text-anchor="end" fill="#222" stroke="#222" stroke-width="0.25">low intensity + romi</text>
<line x1="169.40" y1="587.91" x2="169.40" y2="591.21" stroke="#2a2a2a" stroke-width="0.9"/>
<text transform="translate(173.10,599.91) rotate(-29)" font-size="6.6" text-anchor="end" fill="#222" stroke="#222" stroke-width="0.25">low intensity without TPO-RA</text>
<line x1="192.15" y1="587.91" x2="192.15" y2="591.21" stroke="#2a2a2a" stroke-width="0.9"/>
<text transform="translate(195.85,599.91) rotate(-29)" font-size="6.6" text-anchor="end" fill="#222" stroke="#222" stroke-width="0.25">eltrombopag monotherapy</text>
<text x="91.30" y="492.37" font-size="9.2" text-anchor="start" font-weight="normal" fill="#222" stroke="#222" stroke-width="0.1" textLength="134.6" lengthAdjust="spacingAndGlyphs" >Relapsed &lt;12 mo after CSA+epag</text>
<text transform="translate(93.10,544.64) rotate(-90) scale(0.7215,1)" font-size="8.6" text-anchor="middle" fill="#1a1a1a" stroke="#1a1a1a" stroke-width="0.45">Appropriateness of therapy</text>
<rect x="287.70" y="501.77" width="100.00" height="29.01" fill="#e0edd8"/>
<rect x="287.70" y="559.79" width="100.00" height="28.53" fill="#f3d5cd"/>
<line x1="287.70" y1="501.77" x2="387.70" y2="501.77" stroke="#666" stroke-width="1" stroke-dasharray="1 1.2"/>
<line x1="287.70" y1="530.77" x2="387.70" y2="530.77" stroke="#666" stroke-width="1" stroke-dasharray="1 1.2"/>
<line x1="287.70" y1="559.79" x2="387.70" y2="559.79" stroke="#666" stroke-width="1" stroke-dasharray="1 1.2"/>
<path d="M303.10,516.27V535.61M301.30,516.27H304.90M301.30,535.61H304.90" stroke="#8a7a62" stroke-width="0.9" fill="none"/>
<path d="M325.95,525.94V545.28M324.15,525.94H327.75M324.15,545.28H327.75" stroke="#8a7a62" stroke-width="0.9" fill="none"/>
<path d="M348.80,545.28V574.29M347.00,545.28H350.60M347.00,574.29H350.60" stroke="#8a7a62" stroke-width="0.9" fill="none"/>
<path d="M371.65,516.27V535.61M369.85,516.27H373.45M369.85,535.61H373.45" stroke="#8a7a62" stroke-width="0.9" fill="none"/>
<path d="M303.10,513.47 L306.10,516.27 L303.10,519.07 L300.10,516.27Z" fill="#41290f"/>
<path d="M325.95,532.81 L328.95,535.61 L325.95,538.41 L322.95,535.61Z" fill="#41290f"/>
<path d="M348.80,552.15 L351.80,554.95 L348.80,557.75 L345.80,554.95Z" fill="#41290f"/>
<path d="M371.65,523.14 L374.65,525.94 L371.65,528.74 L368.65,525.94Z" fill="#41290f"/>
<path d="M287.70,501.77V588.31H387.70" stroke="#2a2a2a" stroke-width="1" fill="none"/>
<line x1="284.50" y1="583.96" x2="287.70" y2="583.96" stroke="#2a2a2a" stroke-width="0.9"/>
<text x="280.80" y="586.04" font-size="6.3" text-anchor="end" font-weight="normal" fill="#333" stroke="#333" stroke-width="0.25" >1</text>
<line x1="284.50" y1="574.29" x2="287.70" y2="574.29" stroke="#2a2a2a" stroke-width="0.9"/>
<text x="280.80" y="576.37" font-size="6.3" text-anchor="end" font-weight="normal" fill="#333" stroke="#333" stroke-width="0.25" >2</text>
<line x1="284.50" y1="564.62" x2="287.70" y2="564.62" stroke="#2a2a2a" stroke-width="0.9"/>
<text x="280.80" y="566.70" font-size="6.3" text-anchor="end" font-weight="normal" fill="#333" stroke="#333" stroke-width="0.25" >3</text>
<line x1="284.50" y1="554.95" x2="287.70" y2="554.95" stroke="#2a2a2a" stroke-width="0.9"/>
<text x="280.80" y="557.03" font-size="6.3" text-anchor="end" font-weight="normal" fill="#333" stroke="#333" stroke-width="0.25" >4</text>
<line x1="284.50" y1="545.28" x2="287.70" y2="545.28" stroke="#2a2a2a" stroke-width="0.9"/>
<text x="280.80" y="547.36" font-size="6.3" text-anchor="end" font-weight="normal" fill="#333" stroke="#333" stroke-width="0.25" >5</text>
<line x1="284.50" y1="535.61" x2="287.70" y2="535.61" stroke="#2a2a2a" stroke-width="0.9"/>
<text x="280.80" y="537.69" font-size="6.3" text-anchor="end" font-weight="normal" fill="#333" stroke="#333" stroke-width="0.25" >6</text>
<line x1="284.50" y1="525.94" x2="287.70" y2="525.94" stroke="#2a2a2a" stroke-width="0.9"/>
<text x="280.80" y="528.02" font-size="6.3" text-anchor="end" font-weight="normal" fill="#333" stroke="#333" stroke-width="0.25" >7</text>
<line x1="284.50" y1="516.27" x2="287.70" y2="516.27" stroke="#2a2a2a" stroke-width="0.9"/>
<text x="280.80" y="518.35" font-size="6.3" text-anchor="end" font-weight="normal" fill="#333" stroke="#333" stroke-width="0.25" >8</text>
<line x1="284.50" y1="506.60" x2="287.70" y2="506.60" stroke="#2a2a2a" stroke-width="0.9"/>
<text x="280.80" y="508.68" font-size="6.3" text-anchor="end" font-weight="normal" fill="#333" stroke="#333" stroke-width="0.25" >9</text>
<line x1="303.10" y1="588.31" x2="303.10" y2="591.61" stroke="#2a2a2a" stroke-width="0.9"/>
<text transform="translate(306.80,600.31) rotate(-29)" font-size="6.6" text-anchor="end" fill="#222" stroke="#222" stroke-width="0.25">low intensity + epag</text>
<line x1="325.95" y1="588.31" x2="325.95" y2="591.61" stroke="#2a2a2a" stroke-width="0.9"/>
<text transform="translate(329.65,600.31) rotate(-29)" font-size="6.6" text-anchor="end" fill="#222" stroke="#222" stroke-width="0.25">low intensity + romi</text>
<line x1="348.80" y1="588.31" x2="348.80" y2="591.61" stroke="#2a2a2a" stroke-width="0.9"/>
<text transform="translate(352.50,600.31) rotate(-29)" font-size="6.6" text-anchor="end" fill="#222" stroke="#222" stroke-width="0.25">low intensity without TPO-RA</text>
<line x1="371.65" y1="588.31" x2="371.65" y2="591.61" stroke="#2a2a2a" stroke-width="0.9"/>
<text transform="translate(375.35,600.31) rotate(-29)" font-size="6.6" text-anchor="end" fill="#222" stroke="#222" stroke-width="0.25">eltrombopag monotherapy</text>
<text x="257.20" y="492.77" font-size="9.2" text-anchor="start" font-weight="normal" fill="#222" stroke="#222" stroke-width="0.1" textLength="161.8" lengthAdjust="spacingAndGlyphs" >Relapsed &lt;12 mo after CSA monotherapy</text>
<text transform="translate(272.60,545.04) rotate(-90) scale(0.7215,1)" font-size="8.6" text-anchor="middle" fill="#1a1a1a" stroke="#1a1a1a" stroke-width="0.45">Appropriateness of therapy</text>
<path d="M426.9,540.3 L429.1,542.4 L426.9,544.5 L424.7,542.4Z" fill="#41290f"/>
<text x="433.80" y="544.60" font-size="7.0" text-anchor="start" font-weight="normal" fill="#333" stroke="#333" stroke-width="0.25" textLength="70.5" lengthAdjust="spacingAndGlyphs" >Medically Unfit (any age)</text>
<rect x="0.5" y="0.5" width="519" height="648" fill="none" stroke="#444" stroke-width="1"/>
</svg></body></html>
